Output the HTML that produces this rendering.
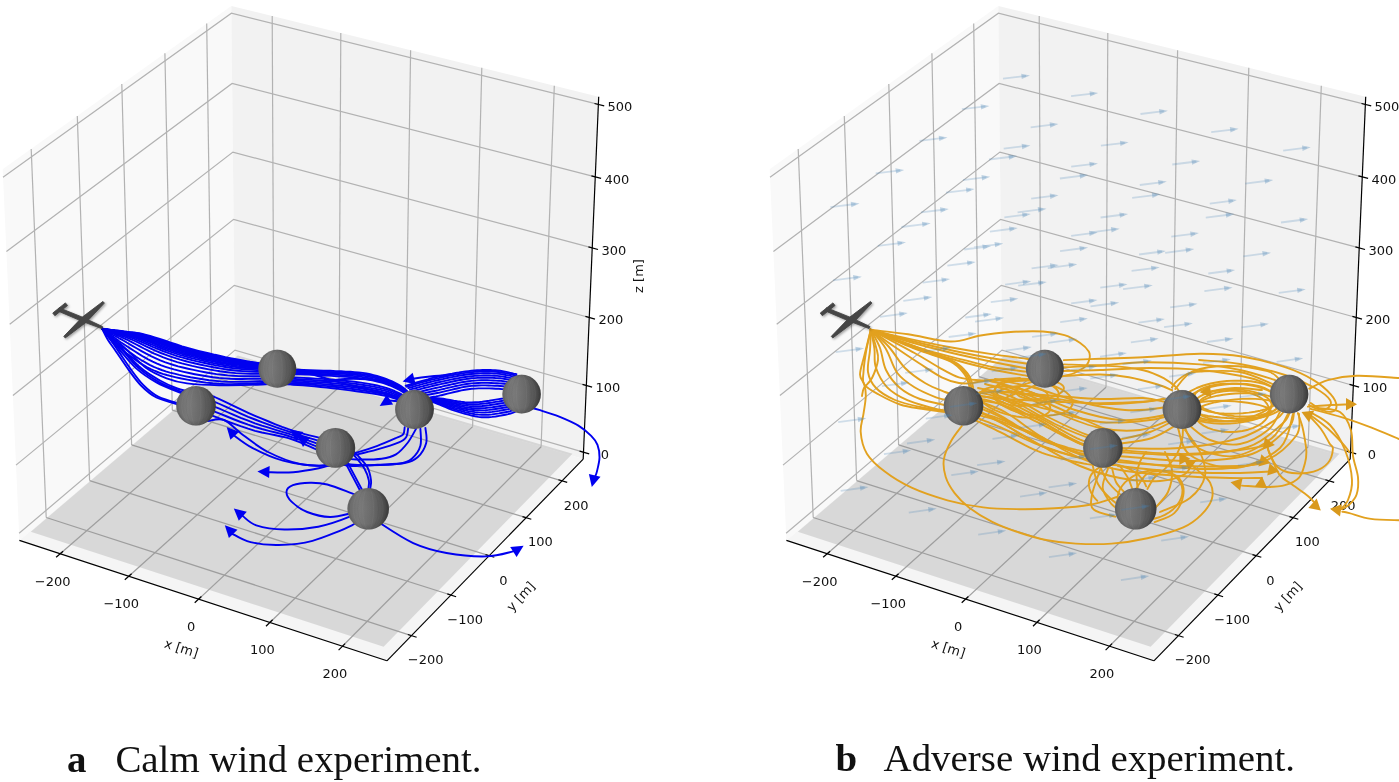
<!DOCTYPE html>
<html><head><meta charset="utf-8"><title>Figure</title>
<style>
html,body{margin:0;padding:0;background:#fff}
body{width:1399px;height:782px;overflow:hidden;position:relative}
svg{position:absolute;left:0;top:0;display:block;filter:blur(.35px)}
.tk text,.lb text{font-family:"DejaVu Sans","Liberation Sans",sans-serif;font-size:13px;fill:#111}
.cap{font-family:"Liberation Serif",serif;font-size:38.9px;fill:#111}
.cap .b{font-weight:bold}
</style></head><body>
<svg width="1399" height="782" viewBox="0 0 1399 782">
<defs>
<linearGradient id="sl" x1="0" y1="0" x2="1" y2="0"><stop offset="0" stop-color="#6c6c6c"/><stop offset="0.28" stop-color="#7b7b7b"/><stop offset="0.6" stop-color="#6b6b6b"/><stop offset="1" stop-color="#4a4a4a"/></linearGradient>
<radialGradient id="sg" cx="0.45" cy="0.48" r="0.55"><stop offset="0" stop-color="#000" stop-opacity="0"/><stop offset="0.7" stop-color="#000" stop-opacity="0.03"/><stop offset="1" stop-color="#000" stop-opacity="0.2"/></radialGradient>
<filter id="ps" x="-20%" y="-20%" width="150%" height="150%"><feDropShadow dx="1.3" dy="1.3" stdDeviation="1" flood-color="#000" flood-opacity=".35"/></filter>
</defs>
<rect width="1399" height="782" fill="#fff"/>
<polygon points="19.4,540.4 235.1,356.8 231.3,5.9 2.7,169.3" fill="#f9f9f9"/>
<polygon points="235.1,356.8 583.2,459.1 598.7,96.8 231.3,5.9" fill="#f2f2f2"/>
<polygon points="19.4,540.4 386.9,660.8 583.2,459.1 235.1,356.8" fill="#f5f5f5"/>
<polygon points="30.8,531.7 383.6,646.7 572.5,453.8 237.7,355.4" fill="#808080" fill-opacity="0.245"/>
<g fill="none" stroke="#b2b2b2" stroke-width="1.2">
<polyline points="273.9,368.2 272.2,16"/>
<polyline points="46.2,517.5 31.2,148.9"/>
<polyline points="339,387.3 340.8,32.9"/>
<polyline points="89.6,480.6 77.3,116"/>
<polyline points="405.2,406.8 410.6,50.2"/>
<polyline points="131.6,444.9 121.8,84.1"/>
<polyline points="472.6,426.6 481.8,67.8"/>
<polyline points="172.3,410.2 164.9,53.3"/>
<polyline points="541.1,446.7 554.3,85.8"/>
<polyline points="211.8,376.6 206.7,23.4"/>
<polyline points="19.1,533.3 235,350.1 583.4,452.2"/>
<polyline points="16,465.1 234.3,285.4 586.3,385.5"/>
<polyline points="12.9,395.5 233.6,219.4 589.2,317.5"/>
<polyline points="9.7,324.3 232.9,152.1 592.2,247.9"/>
<polyline points="6.4,251.5 232.1,83.4 595.3,176.9"/>
<polyline points="3,177.2 231.4,13.2 598.4,104.4"/>
</g>
<g fill="none" stroke="#9e9e9e" stroke-width="1.25">
<polyline points="60.2,553.7 273.9,368.2"/>
<polyline points="411.4,635.6 46.2,517.5"/>
<polyline points="128.8,576.2 339,387.3"/>
<polyline points="450.9,595 89.6,480.6"/>
<polyline points="198.7,599.1 405.2,406.8"/>
<polyline points="489.1,555.7 131.6,444.9"/>
<polyline points="269.9,622.5 472.6,426.6"/>
<polyline points="526.2,517.7 172.3,410.2"/>
<polyline points="342.4,646.2 541.1,446.7"/>
<polyline points="562,480.8 211.8,376.6"/>
</g>
<g fill="none" stroke="#000" stroke-width="1.2">
<polyline points="19.4,540.4 386.9,660.8"/>
<polyline points="386.9,660.8 583.2,459.1"/>
<polyline points="583.2,459.1 598.7,96.8"/>
<polyline points="63.1,551.2 56.1,557.3"/>
<polyline points="407.8,634.5 416.6,637.3"/>
<polyline points="131.6,573.7 124.8,579.8"/>
<polyline points="447.3,593.9 456.1,596.7"/>
<polyline points="201.4,596.5 194.7,602.8"/>
<polyline points="485.5,554.6 494.3,557.3"/>
<polyline points="272.6,619.8 266,626.2"/>
<polyline points="522.5,516.6 531.3,519.3"/>
<polyline points="345.1,643.6 338.6,650.1"/>
<polyline points="558.4,479.7 567.2,482.4"/>
<polyline points="579.6,451.1 589.2,453.9"/>
<polyline points="582.5,384.4 592.1,387.2"/>
<polyline points="585.4,316.4 595,319.1"/>
<polyline points="588.4,246.9 598,249.5"/>
<polyline points="591.4,175.9 601.1,178.4"/>
<polyline points="594.5,103.5 604.2,105.9"/>
</g>
<g class="tk">
<text x="52.7" y="585.6" text-anchor="middle">−200</text>
<text x="425.6" y="664.4" text-anchor="middle">−200</text>
<text x="121.3" y="608.1" text-anchor="middle">−100</text>
<text x="465.1" y="623.8" text-anchor="middle">−100</text>
<text x="191.2" y="631" text-anchor="middle">0</text>
<text x="503.3" y="584.5" text-anchor="middle">0</text>
<text x="262.4" y="654.3" text-anchor="middle">100</text>
<text x="540.4" y="546.4" text-anchor="middle">100</text>
<text x="334.9" y="678.1" text-anchor="middle">200</text>
<text x="576.2" y="509.6" text-anchor="middle">200</text>
<text x="605" y="458.9" text-anchor="middle">0</text>
<text x="607.9" y="392.2" text-anchor="middle">100</text>
<text x="610.8" y="324.1" text-anchor="middle">200</text>
<text x="613.8" y="254.6" text-anchor="middle">300</text>
<text x="616.9" y="183.6" text-anchor="middle">400</text>
<text x="620" y="111.1" text-anchor="middle">500</text>
</g>
<polygon points="786.4,540.4 1002.1,356.8 998.3,5.9 769.7,169.3" fill="#f9f9f9"/>
<polygon points="1002.1,356.8 1350.2,459.1 1365.7,96.8 998.3,5.9" fill="#f2f2f2"/>
<polygon points="786.4,540.4 1153.9,660.8 1350.2,459.1 1002.1,356.8" fill="#f5f5f5"/>
<polygon points="797.8,531.7 1150.6,646.7 1339.5,453.8 1004.7,355.4" fill="#808080" fill-opacity="0.245"/>
<g fill="none" stroke="#b2b2b2" stroke-width="1.2">
<polyline points="1040.9,368.2 1039.2,16"/>
<polyline points="813.2,517.5 798.2,148.9"/>
<polyline points="1106,387.3 1107.8,32.9"/>
<polyline points="856.6,480.6 844.3,116"/>
<polyline points="1172.2,406.8 1177.6,50.2"/>
<polyline points="898.6,444.9 888.8,84.1"/>
<polyline points="1239.6,426.6 1248.8,67.8"/>
<polyline points="939.3,410.2 931.9,53.3"/>
<polyline points="1308.1,446.7 1321.3,85.8"/>
<polyline points="978.8,376.6 973.7,23.4"/>
<polyline points="786.1,533.3 1002,350.1 1350.4,452.2"/>
<polyline points="783,465.1 1001.3,285.4 1353.3,385.5"/>
<polyline points="779.9,395.5 1000.6,219.4 1356.2,317.5"/>
<polyline points="776.7,324.3 999.9,152.1 1359.2,247.9"/>
<polyline points="773.4,251.5 999.1,83.4 1362.3,176.9"/>
<polyline points="770,177.2 998.4,13.2 1365.4,104.4"/>
</g>
<g fill="none" stroke="#9e9e9e" stroke-width="1.25">
<polyline points="827.2,553.7 1040.9,368.2"/>
<polyline points="1178.4,635.6 813.2,517.5"/>
<polyline points="895.8,576.2 1106,387.3"/>
<polyline points="1217.9,595 856.6,480.6"/>
<polyline points="965.7,599.1 1172.2,406.8"/>
<polyline points="1256.1,555.7 898.6,444.9"/>
<polyline points="1036.9,622.5 1239.6,426.6"/>
<polyline points="1293.2,517.7 939.3,410.2"/>
<polyline points="1109.4,646.2 1308.1,446.7"/>
<polyline points="1329,480.8 978.8,376.6"/>
</g>
<g fill="none" stroke="#000" stroke-width="1.2">
<polyline points="786.4,540.4 1153.9,660.8"/>
<polyline points="1153.9,660.8 1350.2,459.1"/>
<polyline points="1350.2,459.1 1365.7,96.8"/>
<polyline points="830.1,551.2 823.1,557.3"/>
<polyline points="1174.8,634.5 1183.6,637.3"/>
<polyline points="898.6,573.7 891.8,579.8"/>
<polyline points="1214.3,593.9 1223.1,596.7"/>
<polyline points="968.4,596.5 961.7,602.8"/>
<polyline points="1252.5,554.6 1261.3,557.3"/>
<polyline points="1039.6,619.8 1033,626.2"/>
<polyline points="1289.5,516.6 1298.3,519.3"/>
<polyline points="1112.1,643.6 1105.6,650.1"/>
<polyline points="1325.4,479.7 1334.2,482.4"/>
<polyline points="1346.6,451.1 1356.2,453.9"/>
<polyline points="1349.5,384.4 1359.1,387.2"/>
<polyline points="1352.4,316.4 1362,319.1"/>
<polyline points="1355.4,246.9 1365,249.5"/>
<polyline points="1358.4,175.9 1368.1,178.4"/>
<polyline points="1361.5,103.5 1371.2,105.9"/>
</g>
<g class="tk">
<text x="819.7" y="585.6" text-anchor="middle">−200</text>
<text x="1192.6" y="664.4" text-anchor="middle">−200</text>
<text x="888.3" y="608.1" text-anchor="middle">−100</text>
<text x="1232.1" y="623.8" text-anchor="middle">−100</text>
<text x="958.2" y="631" text-anchor="middle">0</text>
<text x="1270.3" y="584.5" text-anchor="middle">0</text>
<text x="1029.4" y="654.3" text-anchor="middle">100</text>
<text x="1307.4" y="546.4" text-anchor="middle">100</text>
<text x="1101.9" y="678.1" text-anchor="middle">200</text>
<text x="1343.2" y="509.6" text-anchor="middle">200</text>
<text x="1372" y="458.9" text-anchor="middle">0</text>
<text x="1374.9" y="392.2" text-anchor="middle">100</text>
<text x="1377.8" y="324.1" text-anchor="middle">200</text>
<text x="1380.8" y="254.6" text-anchor="middle">300</text>
<text x="1383.9" y="183.6" text-anchor="middle">400</text>
<text x="1387" y="111.1" text-anchor="middle">500</text>
</g>
<g fill="none" stroke="#0000f0" stroke-width="1.9" stroke-linejoin="round" stroke-linecap="round">
<path d="M102.2,328.8L103.9,329.0L106.2,329.3L108.9,329.6L111.9,329.9L115.1,330.3L118.4,330.6L121.6,331.0L124.5,331.4L127.2,331.8L129.6,332.1L132.0,332.3L134.3,332.5L136.7,332.9L139.4,333.3L142.5,333.9L146.0,334.8L150.1,335.9L154.7,337.3L159.8,338.9L165.2,340.7L170.8,342.6L176.5,344.5L182.1,346.3L187.6,347.9L193.0,349.4L198.4,350.8L203.9,352.2L209.5,353.5L215.0,354.8L220.3,355.9L225.4,357.1L230.3,358.1L234.7,359.0L238.9,359.8L242.9,360.5L246.6,361.1L250.1,361.7L253.5,362.2L256.6,362.7L259.6,363.1L262.5,363.6L265.2,364.0L267.8,364.4L270.2,364.8L272.5,365.1L274.5,365.4L276.3,365.6L277.8,365.8L279.0,366.0"/>
<path d="M102.2,328.8L103.9,329.0L106.1,329.3L108.8,329.6L111.8,330.0L114.9,330.4L118.1,330.8L121.2,331.3L124.1,331.7L126.7,332.0L129.1,332.3L131.4,332.6L133.7,332.9L136.1,333.2L138.8,333.7L141.9,334.4L145.4,335.3L149.5,336.5L154.1,337.9L159.2,339.6L164.5,341.4L170.1,343.3L175.7,345.2L181.3,347.0L186.8,348.7L192.0,350.1L197.4,351.6L202.9,352.9L208.5,354.2L214.0,355.5L219.3,356.7L224.5,357.8L229.4,358.8L233.9,359.7L238.1,360.5L242.2,361.2L246.0,361.8L249.6,362.4L253.0,362.9L256.3,363.3L259.4,363.7L262.3,364.2L265.1,364.6L267.7,364.9L270.2,365.3L272.5,365.6L274.5,365.9L276.3,366.1L277.8,366.3L279.0,366.4"/>
<path d="M102.2,328.8L103.9,329.0L106.1,329.3L108.7,329.7L111.6,330.1L114.7,330.6L117.8,331.0L120.9,331.5L123.7,331.9L126.3,332.3L128.6,332.6L130.9,332.9L133.1,333.2L135.5,333.6L138.2,334.1L141.2,334.9L144.8,335.8L148.9,337.1L153.5,338.6L158.5,340.3L163.9,342.2L169.4,344.1L175.0,346.0L180.5,347.8L185.9,349.4L191.1,350.9L196.5,352.3L202.0,353.6L207.5,354.9L213.0,356.2L218.3,357.4L223.5,358.5L228.5,359.5L233.0,360.4L237.4,361.2L241.5,361.9L245.3,362.5L249.1,363.0L252.6,363.5L256.0,363.9L259.1,364.4L262.2,364.8L265.0,365.1L267.7,365.5L270.2,365.8L272.4,366.1L274.5,366.3L276.3,366.6L277.8,366.7L279.0,366.9"/>
<path d="M102.2,328.8L103.8,329.1L106.0,329.4L108.6,329.8L111.4,330.2L114.5,330.7L117.5,331.2L120.5,331.7L123.3,332.1L125.8,332.6L128.1,332.9L130.3,333.2L132.5,333.6L134.9,334.0L137.6,334.6L140.6,335.3L144.1,336.4L148.2,337.7L152.9,339.2L157.9,341.0L163.2,342.9L168.7,344.8L174.2,346.7L179.7,348.5L185.0,350.2L190.2,351.6L195.5,353.0L201.0,354.4L206.5,355.7L211.9,356.9L217.3,358.1L222.6,359.2L227.5,360.2L232.2,361.1L236.6,361.9L240.7,362.6L244.7,363.2L248.5,363.7L252.1,364.2L255.6,364.6L258.9,365.0L262.0,365.3L264.9,365.7L267.6,366.0L270.1,366.3L272.4,366.6L274.5,366.8L276.3,367.0L277.8,367.2L279.0,367.4"/>
<path d="M102.2,328.8L103.8,329.1L105.9,329.4L108.4,329.9L111.3,330.3L114.2,330.8L117.2,331.4L120.2,331.9L122.9,332.4L125.4,332.8L127.6,333.2L129.7,333.5L131.9,333.9L134.3,334.4L136.9,335.0L140.0,335.8L143.5,336.9L147.6,338.2L152.2,339.9L157.3,341.7L162.5,343.6L168.0,345.6L173.4,347.5L178.9,349.2L184.2,350.9L189.3,352.3L194.6,353.7L200.0,355.1L205.5,356.4L210.9,357.6L216.3,358.8L221.6,359.9L226.6,360.9L231.3,361.8L235.8,362.6L240.0,363.3L244.1,363.9L248.0,364.4L251.7,364.8L255.3,365.2L258.7,365.6L261.8,365.9L264.8,366.3L267.6,366.6L270.1,366.9L272.4,367.1L274.5,367.3L276.3,367.5L277.8,367.7L279.0,367.8"/>
<path d="M102.2,328.8L103.8,329.1L105.8,329.5L108.3,329.9L111.1,330.4L114.0,331.0L117.0,331.5L119.8,332.1L122.5,332.6L124.9,333.1L127.1,333.4L129.2,333.8L131.4,334.2L133.7,334.7L136.3,335.4L139.4,336.3L142.9,337.4L147.0,338.8L151.6,340.5L156.6,342.4L161.9,344.3L167.3,346.3L172.7,348.2L178.1,350.0L183.3,351.6L188.4,353.1L193.6,354.5L199.0,355.8L204.5,357.1L209.9,358.3L215.4,359.5L220.6,360.6L225.7,361.6L230.5,362.5L235.0,363.3L239.3,364.0L243.4,364.6L247.4,365.1L251.3,365.5L254.9,365.8L258.4,366.2L261.7,366.5L264.7,366.8L267.5,367.1L270.1,367.4L272.4,367.6L274.5,367.8L276.3,368.0L277.8,368.1L279.0,368.2"/>
<path d="M102.2,328.8L103.7,329.1L105.8,329.5L108.2,330.0L110.9,330.6L113.7,331.2L116.6,331.8L119.4,332.4L122.0,332.9L124.3,333.4L126.4,333.8L128.5,334.2L130.6,334.7L132.9,335.2L135.5,336.0L138.5,336.9L142.1,338.1L146.2,339.6L150.8,341.4L155.8,343.3L161.0,345.3L166.3,347.3L171.7,349.2L177.0,351.0L182.2,352.6L187.2,354.0L192.4,355.4L197.7,356.7L203.1,358.0L208.6,359.3L214.0,360.4L219.4,361.6L224.5,362.6L229.3,363.5L234.0,364.3L238.3,364.9L242.6,365.5L246.7,366.0L250.7,366.4L254.5,366.7L258.1,367.0L261.5,367.3L264.6,367.6L267.4,367.9L270.0,368.1L272.4,368.3L274.5,368.5L276.3,368.6L277.8,368.7L279.0,368.9"/>
<path d="M102.2,328.8L103.7,329.1L105.7,329.6L108.0,330.1L110.6,330.7L113.4,331.4L116.2,332.0L118.9,332.6L121.4,333.2L123.7,333.7L125.7,334.2L127.7,334.6L129.8,335.1L132.1,335.7L134.7,336.5L137.7,337.5L141.3,338.8L145.4,340.4L150.0,342.2L154.9,344.2L160.1,346.3L165.4,348.3L170.7,350.2L175.9,352.0L181.0,353.6L186.0,355.0L191.1,356.4L196.4,357.7L201.8,359.0L207.2,360.2L212.7,361.4L218.1,362.5L223.3,363.5L228.2,364.4L232.9,365.2L237.4,365.9L241.7,366.4L246.0,366.9L250.1,367.2L254.0,367.5L257.8,367.8L261.3,368.1L264.5,368.4L267.4,368.6L270.0,368.8L272.4,369.0L274.4,369.1L276.3,369.3L277.8,369.4L279.0,369.4"/>
<path d="M102.2,328.8L103.6,329.2L105.5,329.7L107.8,330.3L110.3,330.9L113.0,331.6L115.7,332.3L118.3,333.0L120.8,333.6L122.9,334.2L124.9,334.7L126.8,335.1L128.8,335.7L131.0,336.4L133.6,337.2L136.7,338.3L140.2,339.7L144.3,341.4L148.9,343.3L153.9,345.4L159.0,347.5L164.2,349.5L169.4,351.4L174.5,353.2L179.6,354.8L184.5,356.2L189.5,357.6L194.7,358.9L200.1,360.2L205.6,361.4L211.1,362.6L216.5,363.7L221.8,364.7L226.8,365.6L231.6,366.4L236.2,367.0L240.7,367.6L245.1,368.0L249.4,368.3L253.5,368.6L257.4,368.8L261.0,369.1L264.3,369.3L267.3,369.5L270.0,369.7L272.3,369.8L274.4,370.0L276.2,370.1L277.8,370.1L279.0,370.2"/>
<path d="M102.2,328.8L103.6,329.2L105.4,329.8L107.6,330.4L110.0,331.1L112.5,331.9L115.1,332.7L117.6,333.4L119.9,334.1L122.0,334.7L123.9,335.2L125.7,335.8L127.6,336.4L129.8,337.1L132.4,338.0L135.4,339.3L139.0,340.8L143.1,342.6L147.7,344.6L152.6,346.8L157.7,348.9L162.8,351.0L167.9,352.9L172.9,354.7L177.8,356.3L182.7,357.7L187.6,359.0L192.8,360.3L198.1,361.6L203.6,362.8L209.1,364.0L214.6,365.1L219.9,366.1L225.1,367.0L230.0,367.8L234.8,368.4L239.4,368.9L244.0,369.3L248.5,369.6L252.8,369.9L256.9,370.1L260.7,370.3L264.1,370.5L267.2,370.6L269.9,370.8L272.3,370.9L274.4,370.9L276.2,371.0L277.8,371.1L279.0,371.1"/>
<path d="M102.2,328.8L103.5,329.3L105.2,329.9L107.3,330.6L109.5,331.4L111.9,332.3L114.4,333.2L116.7,334.0L118.9,334.7L120.7,335.4L122.5,336.0L124.2,336.6L126.1,337.3L128.2,338.1L130.7,339.1L133.8,340.5L137.4,342.2L141.5,344.2L146.0,346.3L150.9,348.6L155.9,350.9L160.9,353.0L165.9,354.9L170.8,356.7L175.5,358.2L180.2,359.7L185.1,361.0L190.2,362.3L195.4,363.5L200.9,364.7L206.4,365.9L212.0,367.0L217.5,368.0L222.8,368.9L227.9,369.7L232.9,370.3L237.7,370.8L242.5,371.1L247.3,371.4L251.9,371.6L256.3,371.7L260.3,371.8L263.9,372.0L267.0,372.1L269.8,372.2L272.3,372.2L274.4,372.3L276.2,372.3L277.8,372.3L279.0,372.3"/>
<path d="M102.2,328.8L103.4,329.3L105.0,330.0L106.9,330.9L108.9,331.8L111.2,332.8L113.4,333.7L115.6,334.7L117.5,335.5L119.2,336.2L120.8,336.9L122.4,337.6L124.1,338.4L126.2,339.3L128.7,340.5L131.7,342.1L135.3,344.0L139.4,346.1L143.9,348.5L148.7,350.9L153.7,353.3L158.6,355.4L163.4,357.4L168.1,359.1L172.7,360.7L177.2,362.1L181.9,363.4L186.9,364.6L192.1,365.9L197.5,367.1L203.1,368.3L208.8,369.4L214.4,370.4L220.0,371.3L225.3,372.0L230.5,372.6L235.6,373.1L240.7,373.4L245.8,373.6L250.8,373.7L255.5,373.7L259.7,373.8L263.5,373.9L266.8,373.9L269.7,374.0L272.2,373.9L274.4,373.9L276.2,373.9L277.7,373.8L279.0,373.8"/>
<path d="M102.2,328.8L103.3,329.4L104.7,330.2L106.4,331.2L108.3,332.2L110.2,333.4L112.2,334.5L114.2,335.5L115.9,336.4L117.4,337.2L118.7,338.0L120.2,338.8L121.8,339.7L123.7,340.8L126.2,342.2L129.2,344.0L132.8,346.1L137.0,348.5L141.5,351.1L146.2,353.7L151.0,356.2L155.8,358.4L160.3,360.4L164.8,362.1L169.2,363.6L173.6,365.0L178.1,366.3L182.9,367.5L188.1,368.7L193.5,369.9L199.2,371.1L205.0,372.2L210.8,373.2L216.5,374.1L222.2,374.8L227.6,375.4L233.0,375.8L238.6,376.1L244.1,376.2L249.4,376.2L254.5,376.2L259.1,376.2L263.1,376.2L266.6,376.1L269.6,376.1L272.2,376.0L274.4,375.9L276.2,375.8L277.7,375.7L279.0,375.6"/>
<path d="M102.2,328.8L103.1,329.5L104.4,330.4L105.9,331.5L107.5,332.7L109.2,334.0L111.0,335.2L112.7,336.4L114.1,337.4L115.4,338.3L116.5,339.2L117.8,340.1L119.2,341.2L121.1,342.5L123.5,344.0L126.5,346.0L130.2,348.4L134.3,351.0L138.8,353.9L143.4,356.7L148.1,359.3L152.7,361.6L157.1,363.6L161.3,365.3L165.5,366.8L169.7,368.2L174.0,369.4L178.7,370.6L183.7,371.8L189.1,373.0L194.9,374.2L200.8,375.3L206.8,376.3L212.8,377.2L218.8,377.9L224.5,378.4L230.3,378.8L236.2,379.0L242.2,379.0L248.0,378.9L253.5,378.8L258.4,378.7L262.7,378.6L266.4,378.5L269.5,378.4L272.1,378.2L274.3,378.0L276.2,377.8L277.7,377.7L279.0,377.6"/>
<path d="M102.2,328.8L103.0,329.6L104.1,330.6L105.3,331.8L106.8,333.2L108.2,334.6L109.7,336.0L111.2,337.3L112.4,338.4L113.4,339.5L114.3,340.4L115.4,341.5L116.7,342.7L118.4,344.1L120.8,345.8L123.8,348.0L127.5,350.7L131.6,353.6L136.1,356.7L140.7,359.7L145.3,362.4L149.6,364.8L153.8,366.8L157.8,368.5L161.7,370.0L165.7,371.4L169.9,372.6L174.4,373.7L179.3,374.9L184.8,376.1L190.6,377.3L196.6,378.3L202.9,379.3L209.1,380.2L215.4,380.9L221.4,381.5L227.5,381.8L233.9,381.9L240.3,381.8L246.5,381.7L252.4,381.5L257.7,381.3L262.3,381.1L266.1,380.9L269.3,380.7L272.0,380.4L274.3,380.1L276.2,379.9L277.7,379.7L279.0,379.5"/>
<path d="M102.2,328.8L102.9,329.6L103.8,330.8L104.9,332.1L106.2,333.6L107.5,335.1L108.8,336.6L110.0,338.0L111.0,339.2L111.8,340.3L112.6,341.4L113.5,342.5L114.7,343.8L116.4,345.3L118.7,347.2L121.7,349.6L125.4,352.4L129.6,355.6L134.0,358.8L138.5,362.0L143.0,364.9L147.3,367.3L151.3,369.3L155.1,371.0L158.8,372.5L162.7,373.8L166.8,375.0L171.1,376.1L176.0,377.3L181.4,378.5L187.2,379.6L193.4,380.7L199.8,381.7L206.3,382.6L212.7,383.3L219.0,383.8L225.4,384.1L232.0,384.1L238.8,384.0L245.4,383.8L251.6,383.5L257.2,383.2L262.0,383.0L265.9,382.8L269.2,382.5L272.0,382.1L274.3,381.8L276.1,381.5L277.7,381.2L279.0,381.0"/>
<path d="M102.2,328.8C103.2,330.7 105.8,336.4 108.0,340.0C110.2,343.6 112.0,345.7 115.5,350.7C119.0,355.7 124.6,364.3 128.8,370.1C133.1,375.9 136.4,380.9 141.0,385.5C145.6,390.1 149.9,394.2 156.4,397.5C162.9,400.8 176.1,403.8 180.0,405.0"/>
<path d="M102.2,328.8C103.5,330.6 107.6,335.8 110.2,339.4C112.8,342.9 114.2,345.1 117.7,350.1C121.2,355.1 126.8,363.7 131.0,369.5C135.2,375.3 138.6,380.3 143.2,384.9C147.8,389.5 152.1,393.6 158.6,396.9C165.1,400.1 178.3,403.1 182.2,404.4"/>
<path d="M102.2,328.8C103.5,330.5 107.3,335.7 110.0,339.0C112.7,342.3 114.2,343.8 118.5,348.6C122.8,353.5 129.6,362.5 135.9,368.1C142.2,373.7 149.1,378.3 156.4,382.4C163.7,386.5 173.3,390.0 179.9,392.6C186.5,395.2 193.3,397.1 196.0,398.0"/>
<path d="M102.2,328.8C103.9,330.4 109.1,335.2 112.2,338.4C115.3,341.6 116.4,343.1 120.7,348.0C125.0,352.9 131.8,361.9 138.1,367.5C144.4,373.1 151.3,377.7 158.6,381.8C165.9,385.9 175.5,389.4 182.1,392.0C188.7,394.6 195.5,396.5 198.2,397.4"/>
<path d="M102.2,328.8C103.8,330.2 108.4,334.5 112.0,337.5C115.6,340.5 117.9,341.5 123.6,346.6C129.3,351.7 139.0,362.8 146.2,368.1C153.4,373.4 159.8,375.8 166.6,378.3C173.4,380.9 178.4,382.2 187.1,383.4C195.8,384.5 206.5,385.0 219.0,385.2C231.5,385.4 252.0,384.9 262.0,384.5C272.0,384.1 276.2,383.2 279.0,383.0"/>
<path d="M102.2,328.8C103.7,330.4 107.9,335.4 111.0,338.5C114.1,341.6 116.0,342.7 121.0,347.6C126.0,352.5 134.5,362.6 141.0,368.1C147.5,373.6 154.2,377.2 160.0,380.5C165.8,383.8 171.0,386.1 176.0,388.0C181.0,389.9 187.7,391.3 190.0,392.0"/>
<path d="M205.0,396.0L205.6,395.9L206.3,395.5L207.2,395.2L208.7,395.2L211.1,395.7L214.7,397.0L219.9,399.3L226.3,402.3L233.5,405.8L240.9,409.4L248.2,412.8L255.0,415.8L261.8,418.7L268.7,421.5L275.5,424.3L282.1,426.9L288.4,429.2L294.1,431.1L299.5,432.7L304.7,434.1L309.5,435.3L313.9,436.4L318.0,437.4L321.8,438.4L325.2,439.3L328.4,440.2L331.1,440.9L333.3,441.5L335.0,442.0"/>
<path d="M205.0,400.5L205.6,400.4L206.2,400.1L207.0,399.9L208.4,400.0L210.8,400.5L214.5,401.8L219.7,404.0L226.1,406.9L233.3,410.2L240.8,413.6L248.2,416.8L255.0,419.5L261.8,422.1L268.7,424.6L275.6,427.1L282.2,429.3L288.4,431.4L294.1,433.3L299.5,435.1L304.7,436.7L309.5,438.1L313.9,439.4L318.0,440.6L321.8,441.7L325.2,442.6L328.4,443.5L331.1,444.2L333.3,444.8L335.0,445.2"/>
<path d="M205.0,405.0L205.6,405.0L206.1,404.8L206.8,404.6L208.2,404.8L210.5,405.4L214.2,406.6L219.4,408.7L225.9,411.5L233.2,414.6L240.7,417.8L248.1,420.7L255.0,423.3L261.8,425.6L268.7,427.7L275.6,429.8L282.2,431.8L288.4,433.7L294.1,435.6L299.5,437.4L304.7,439.2L309.5,440.9L313.9,442.4L318.0,443.8L321.8,444.9L325.2,445.9L328.4,446.8L331.1,447.5L333.3,448.1L335.0,448.5"/>
<path d="M205.0,409.5L205.5,409.5L205.9,409.4L206.6,409.4L207.9,409.6L210.2,410.2L213.9,411.4L219.1,413.4L225.7,416.0L233.0,419.0L240.7,422.0L248.1,424.7L255.0,427.0L261.9,429.0L268.8,430.8L275.6,432.5L282.2,434.2L288.4,436.0L294.1,437.8L299.5,439.7L304.7,441.7L309.5,443.6L313.9,445.4L318.0,446.9L321.8,448.2L325.2,449.2L328.4,450.1L331.1,450.8L333.3,451.3L335.0,451.8"/>
<path d="M205.0,414.0L205.5,414.1L205.8,414.0L206.5,414.1L207.7,414.3L209.9,415.0L213.6,416.2L218.8,418.1L225.4,420.6L232.9,423.4L240.6,426.2L248.1,428.7L255.0,430.8L261.9,432.5L268.8,433.9L275.6,435.3L282.2,436.7L288.4,438.2L294.1,440.0L299.5,442.1L304.7,444.3L309.5,446.4L313.9,448.4L318.0,450.1L321.8,451.4L325.2,452.5L328.4,453.3L331.1,454.0L333.3,454.6L335.0,455.0"/>
<path d="M280.0,369.0L281.3,369.1L282.9,369.1L284.8,369.2L287.2,369.3L290.2,369.5L293.7,369.6L298.1,369.8L303.6,370.0L310.0,370.2L316.8,370.4L323.7,370.6L330.2,370.8L336.0,371.1L341.1,371.3L345.9,371.6L350.4,371.8L354.6,372.1L358.7,372.4L362.7,372.9L366.5,373.5L370.2,374.2L373.6,375.1L377.0,376.0L380.1,376.9L383.2,378.0L386.1,379.0L388.9,380.1L391.6,381.2L394.1,382.4L396.5,383.6L398.8,384.9L400.9,386.1L402.9,387.5L404.8,389.0L406.7,390.7L408.3,392.3L409.8,393.8L411.1,395.1L412.0,396.0"/>
<path d="M280.0,370.0L281.3,370.1L282.8,370.2L284.7,370.3L287.0,370.4L289.8,370.5L293.3,370.6L297.6,370.8L303.0,371.0L309.2,371.2L315.9,371.4L322.6,371.7L329.1,371.9L334.9,372.2L340.1,372.5L345.0,372.7L349.5,373.0L353.9,373.3L358.1,373.7L362.2,374.2L366.2,374.8L370.0,375.5L373.6,376.4L377.0,377.3L380.2,378.2L383.2,379.2L386.1,380.2L388.8,381.2L391.4,382.3L393.9,383.4L396.2,384.6L398.4,385.8L400.6,387.0L402.6,388.3L404.5,389.8L406.4,391.4L408.1,393.0L409.6,394.4L410.9,395.7L411.9,396.6"/>
<path d="M280.0,371.1L281.2,371.2L282.7,371.2L284.5,371.3L286.8,371.4L289.5,371.5L292.9,371.7L297.0,371.8L302.3,372.0L308.3,372.2L314.9,372.5L321.6,372.7L328.0,373.0L333.8,373.3L339.1,373.6L344.0,373.9L348.7,374.2L353.2,374.5L357.5,375.0L361.8,375.5L365.9,376.1L369.8,376.8L373.5,377.7L377.0,378.5L380.3,379.5L383.3,380.4L386.1,381.4L388.8,382.4L391.3,383.4L393.7,384.5L395.9,385.6L398.1,386.8L400.3,388.0L402.3,389.2L404.3,390.6L406.2,392.2L407.9,393.7L409.5,395.1L410.7,396.3L411.7,397.1"/>
<path d="M280.0,372.3L281.2,372.4L282.6,372.4L284.4,372.5L286.5,372.6L289.2,372.7L292.4,372.8L296.4,373.0L301.5,373.2L307.4,373.4L313.8,373.7L320.3,374.0L326.7,374.3L332.6,374.6L337.9,374.9L343.0,375.2L347.7,375.6L352.3,375.9L356.8,376.4L361.2,376.9L365.5,377.6L369.6,378.3L373.5,379.2L377.1,380.0L380.4,380.9L383.4,381.8L386.1,382.7L388.7,383.7L391.1,384.7L393.4,385.7L395.6,386.7L397.8,387.8L399.9,389.0L401.9,390.2L404.0,391.6L405.9,393.0L407.7,394.5L409.2,395.8L410.6,396.9L411.6,397.8"/>
<path d="M280.0,373.5L281.2,373.6L282.5,373.6L284.2,373.7L286.2,373.8L288.8,373.9L291.9,374.0L295.8,374.2L300.7,374.4L306.4,374.6L312.7,374.9L319.1,375.2L325.5,375.5L331.4,375.9L336.8,376.2L341.9,376.6L346.7,376.9L351.5,377.3L356.1,377.8L360.7,378.4L365.2,379.1L369.4,379.8L373.4,380.6L377.1,381.5L380.4,382.4L383.4,383.2L386.2,384.1L388.7,385.0L391.0,385.9L393.2,386.9L395.3,387.9L397.4,388.9L399.5,390.0L401.6,391.2L403.6,392.5L405.6,393.9L407.4,395.3L409.0,396.5L410.4,397.6L411.4,398.4"/>
<path d="M280.0,376.8L281.1,376.8L282.3,376.9L283.7,376.9L285.5,377.0L287.8,377.1L290.6,377.2L294.1,377.4L298.5,377.6L303.7,377.9L309.6,378.2L315.8,378.6L322.0,378.9L328.0,379.4L333.6,379.8L339.0,380.2L344.1,380.7L349.2,381.2L354.3,381.8L359.3,382.4L364.2,383.1L368.9,383.9L373.3,384.7L377.2,385.5L380.6,386.3L383.6,387.1L386.2,387.8L388.5,388.6L390.6,389.4L392.5,390.2L394.5,391.0L396.4,391.9L398.5,392.8L400.6,393.9L402.8,395.0L404.8,396.2L406.7,397.4L408.4,398.6L409.9,399.5L411.0,400.2"/>
<path d="M280.0,378.3L281.0,378.3L282.1,378.4L283.5,378.4L285.2,378.5L287.3,378.5L290.0,378.7L293.3,378.8L297.5,379.1L302.5,379.4L308.2,379.7L314.3,380.1L320.4,380.5L326.4,381.0L332.2,381.4L337.7,381.9L342.9,382.4L348.1,382.9L353.4,383.6L358.7,384.2L363.8,385.0L368.7,385.8L373.2,386.6L377.3,387.4L380.7,388.1L383.7,388.8L386.2,389.5L388.4,390.2L390.4,390.9L392.2,391.7L394.1,392.4L396.0,393.2L398.1,394.1L400.2,395.1L402.4,396.2L404.5,397.3L406.4,398.4L408.2,399.5L409.7,400.3L410.8,401.0"/>
<path d="M280.0,379.8L281.0,379.8L282.0,379.9L283.3,379.9L284.9,379.9L286.9,380.0L289.4,380.1L292.5,380.3L296.5,380.5L301.3,380.8L306.8,381.2L312.8,381.6L318.9,382.1L324.9,382.5L330.7,383.0L336.3,383.6L341.6,384.1L347.0,384.7L352.5,385.4L358.0,386.1L363.4,386.8L368.4,387.6L373.1,388.4L377.3,389.2L380.8,389.9L383.8,390.6L386.2,391.2L388.3,391.9L390.2,392.5L391.9,393.2L393.7,393.8L395.6,394.6L397.6,395.4L399.8,396.3L402.0,397.3L404.1,398.4L406.1,399.4L407.9,400.4L409.4,401.2L410.6,401.8"/>
<path d="M280.0,381.3L280.9,381.3L281.9,381.3L283.1,381.4L284.5,381.4L286.4,381.5L288.8,381.6L291.8,381.8L295.5,382.0L300.1,382.3L305.4,382.7L311.2,383.1L317.3,383.6L323.3,384.1L329.3,384.7L335.0,385.2L340.4,385.8L346.0,386.4L351.7,387.1L357.4,387.9L362.9,388.7L368.2,389.5L373.1,390.3L377.3,391.0L380.9,391.7L383.8,392.4L386.2,392.9L388.2,393.5L390.0,394.1L391.6,394.7L393.3,395.3L395.1,395.9L397.2,396.7L399.3,397.6L401.6,398.5L403.7,399.5L405.8,400.4L407.6,401.3L409.2,402.0L410.4,402.6"/>
<path d="M280.0,382.6L280.9,382.7L281.8,382.7L282.9,382.7L284.2,382.7L286.0,382.8L288.2,382.9L291.1,383.1L294.6,383.3L299.0,383.7L304.2,384.1L309.9,384.5L315.9,385.0L321.9,385.6L328.0,386.1L333.8,386.7L339.3,387.3L345.0,388.0L350.9,388.8L356.8,389.5L362.5,390.4L368.0,391.2L373.0,392.0L377.4,392.7L381.0,393.3L383.9,393.9L386.3,394.5L388.2,395.0L389.8,395.5L391.4,396.0L392.9,396.6L394.7,397.2L396.8,397.9L399.0,398.7L401.2,399.5L403.4,400.4L405.5,401.3L407.4,402.1L409.0,402.8L410.2,403.3"/>
<path d="M280.0,384.0L280.8,384.0L281.7,384.0L282.7,384.0L284.0,384.1L285.6,384.1L287.7,384.2L290.4,384.4L293.7,384.7L298.0,385.0L302.9,385.4L308.5,385.9L314.4,386.4L320.6,387.0L326.7,387.6L332.6,388.2L338.2,388.9L344.1,389.6L350.1,390.4L356.2,391.2L362.1,392.0L367.8,392.8L372.9,393.6L377.4,394.3L381.1,395.0L384.0,395.5L386.3,396.0L388.1,396.4L389.6,396.9L391.1,397.3L392.6,397.8L394.3,398.4L396.4,399.0L398.6,399.8L400.9,400.6L403.1,401.4L405.2,402.2L407.2,402.9L408.8,403.6L410.0,404.0"/>
<path d="M280.0,370.0C285.0,370.7 299.2,371.7 310.0,374.0C320.8,376.3 333.3,381.0 345.0,384.0C356.7,387.0 369.2,389.0 380.0,392.0C390.8,395.0 405.0,400.3 410.0,402.0"/>
<path d="M280.0,384.0C285.0,384.0 299.2,384.8 310.0,384.0C320.8,383.2 333.3,379.5 345.0,379.0C356.7,378.5 370.0,379.2 380.0,381.0C390.0,382.8 400.8,388.5 405.0,390.0"/>
<path d="M405.7,385.7L407.7,385.1L410.2,384.4L413.2,383.5L416.6,382.5L420.3,381.4L424.1,380.3L427.9,379.3L431.7,378.2L435.3,377.3L438.7,376.5L442.1,375.8L445.4,375.0L448.8,374.3L452.2,373.7L455.6,373.0L458.9,372.5L462.2,371.9L465.4,371.5L468.5,371.1L471.5,370.7L474.4,370.5L477.2,370.3L479.9,370.1L482.6,370.0L485.3,370.0L487.8,370.0L490.3,370.0L492.8,370.1L495.2,370.3L497.6,370.5L500.1,370.8L502.6,371.2L505.0,371.6L507.4,372.1L509.7,372.7L511.8,373.1L513.6,373.6L515.2,373.9L516.4,374.2"/>
<path d="M406.8,386.8L408.7,386.2L411.2,385.5L414.1,384.7L417.3,383.7L420.8,382.7L424.5,381.7L428.2,380.7L431.9,379.7L435.4,378.8L438.7,378.1L442.0,377.3L445.4,376.6L448.7,375.9L452.1,375.2L455.5,374.6L458.9,374.0L462.2,373.4L465.4,372.9L468.5,372.5L471.5,372.2L474.4,371.9L477.3,371.7L480.1,371.6L482.9,371.5L485.6,371.4L488.2,371.5L490.8,371.5L493.3,371.6L495.7,371.8L498.1,372.0L500.6,372.3L503.0,372.7L505.4,373.1L507.8,373.6L510.0,374.1L512.0,374.6L513.8,375.0L515.3,375.4L516.5,375.6"/>
<path d="M408.3,388.1L410.1,387.6L412.4,387.0L415.1,386.2L418.2,385.3L421.5,384.4L425.0,383.4L428.5,382.5L432.0,381.6L435.5,380.7L438.7,380.0L441.9,379.3L445.2,378.5L448.6,377.8L452.0,377.1L455.4,376.5L458.8,375.8L462.1,375.3L465.3,374.8L468.5,374.3L471.5,374.0L474.5,373.7L477.4,373.5L480.3,373.4L483.2,373.3L486.0,373.3L488.7,373.3L491.3,373.4L493.9,373.5L496.3,373.6L498.7,373.8L501.2,374.1L503.6,374.5L505.9,375.0L508.2,375.4L510.3,375.9L512.3,376.4L514.0,376.8L515.5,377.2L516.7,377.4"/>
<path d="M410.0,389.7L411.7,389.2L413.8,388.7L416.4,388.0L419.2,387.2L422.3,386.4L425.6,385.5L428.9,384.7L432.3,383.8L435.5,383.0L438.7,382.3L441.8,381.6L445.1,380.9L448.5,380.1L451.8,379.4L455.2,378.7L458.6,378.1L462.0,377.5L465.3,377.0L468.5,376.5L471.5,376.2L474.6,375.9L477.6,375.7L480.6,375.6L483.5,375.5L486.4,375.5L489.2,375.5L491.9,375.6L494.6,375.7L497.1,375.9L499.5,376.1L501.9,376.4L504.2,376.7L506.5,377.2L508.7,377.6L510.8,378.1L512.7,378.6L514.3,379.0L515.7,379.3L516.9,379.5"/>
<path d="M411.7,391.3L413.3,390.9L415.3,390.4L417.6,389.8L420.3,389.1L423.2,388.3L426.2,387.6L429.3,386.8L432.5,386.0L435.6,385.3L438.7,384.6L441.8,383.9L445.0,383.2L448.3,382.5L451.7,381.7L455.1,381.0L458.5,380.3L461.9,379.7L465.2,379.1L468.4,378.7L471.6,378.3L474.7,378.1L477.8,377.9L480.9,377.8L483.9,377.7L486.9,377.7L489.8,377.8L492.6,377.8L495.3,378.0L497.8,378.1L500.2,378.3L502.6,378.6L504.9,379.0L507.1,379.4L509.3,379.8L511.2,380.3L513.0,380.7L514.6,381.1L516.0,381.4L517.1,381.7"/>
<path d="M413.7,393.1L415.2,392.8L417.0,392.4L419.1,391.9L421.5,391.3L424.1,390.7L426.9,390.0L429.8,389.3L432.8,388.6L435.7,388.0L438.6,387.4L441.7,386.7L444.8,385.9L448.1,385.2L451.5,384.4L454.9,383.7L458.4,382.9L461.8,382.3L465.1,381.7L468.4,381.2L471.6,380.9L474.8,380.6L478.0,380.4L481.2,380.3L484.3,380.3L487.4,380.3L490.5,380.4L493.3,380.5L496.1,380.6L498.7,380.7L501.1,380.9L503.4,381.2L505.7,381.6L507.8,382.0L509.9,382.4L511.7,382.8L513.4,383.3L515.0,383.6L516.2,383.9L517.3,384.2"/>
<path d="M415.7,395.0L417.0,394.7L418.7,394.4L420.6,393.9L422.7,393.5L425.1,393.0L427.6,392.4L430.3,391.8L433.0,391.2L435.8,390.7L438.6,390.1L441.5,389.4L444.7,388.7L447.9,387.9L451.3,387.1L454.7,386.3L458.2,385.6L461.7,384.9L465.1,384.3L468.4,383.8L471.6,383.4L474.9,383.2L478.2,383.0L481.5,382.9L484.8,382.9L488.0,382.9L491.1,383.0L494.1,383.1L496.9,383.2L499.5,383.4L501.9,383.5L504.3,383.8L506.5,384.2L508.5,384.5L510.5,385.0L512.3,385.4L513.9,385.8L515.3,386.1L516.5,386.4L517.5,386.7"/>
<path d="M417.7,396.9L418.9,396.6L420.3,396.4L422.0,396.0L424.0,395.7L426.1,395.3L428.3,394.8L430.8,394.3L433.3,393.8L435.9,393.3L438.6,392.8L441.4,392.1L444.5,391.4L447.8,390.6L451.1,389.8L454.6,389.0L458.1,388.2L461.6,387.4L465.0,386.8L468.4,386.3L471.6,385.9L475.0,385.7L478.4,385.5L481.8,385.4L485.2,385.4L488.5,385.5L491.8,385.6L494.8,385.7L497.7,385.8L500.4,386.0L502.8,386.2L505.1,386.4L507.2,386.7L509.2,387.1L511.1,387.5L512.8,387.9L514.3,388.3L515.6,388.7L516.8,388.9L517.7,389.2"/>
<path d="M420.0,399.0L421.0,398.8L422.3,398.6L423.7,398.4L425.4,398.2L427.2,397.9L429.2,397.6L431.3,397.2L433.6,396.8L436.0,396.4L438.6,395.9L441.3,395.2L444.3,394.5L447.6,393.7L450.9,392.9L454.4,392.0L457.9,391.2L461.4,390.4L464.9,389.7L468.3,389.2L471.7,388.8L475.1,388.6L478.6,388.4L482.2,388.4L485.7,388.4L489.2,388.4L492.5,388.5L495.7,388.7L498.7,388.8L501.4,389.0L503.8,389.1L506.0,389.4L508.1,389.7L510.0,390.1L511.8,390.5L513.4,390.8L514.8,391.2L516.0,391.5L517.1,391.8L518.0,392.0"/>
<path d="M420.0,399.0L420.9,398.9L422.0,398.8L423.3,398.6L424.8,398.4L426.4,398.2L428.2,398.0L430.2,397.9L432.4,397.9L434.7,397.9L437.3,398.1L440.1,398.4L443.2,398.8L446.5,399.4L450.1,400.0L453.7,400.7L457.4,401.3L461.1,401.8L464.8,402.2L468.3,402.5L471.7,402.5L475.2,402.3L478.7,402.1L482.3,401.7L485.8,401.2L489.2,400.7L492.6,400.1L495.7,399.6L498.7,399.1L501.4,398.7L503.8,398.4L506.0,398.0L508.1,397.7L510.0,397.4L511.8,397.1L513.4,396.8L514.8,396.6L516.0,396.3L517.1,396.2L518.0,396.0"/>
<path d="M420.6,399.1L421.5,399.1L422.5,399.0L423.8,398.9L425.2,398.7L426.8,398.6L428.6,398.5L430.5,398.5L432.7,398.5L435.0,398.7L437.6,399.0L440.4,399.4L443.5,400.0L446.9,400.7L450.3,401.4L453.9,402.1L457.6,402.8L461.2,403.4L464.8,403.8L468.3,404.2L471.7,404.3L475.1,404.3L478.6,404.1L482.2,403.8L485.7,403.5L489.1,403.0L492.5,402.5L495.7,401.9L498.8,401.5L501.5,401.0L504.0,400.6L506.4,400.3L508.5,399.9L510.4,399.6L512.1,399.2L513.7,398.9L515.1,398.5L516.3,398.3L517.4,398.0L518.3,397.8"/>
<path d="M421.1,399.3L422.0,399.3L423.0,399.2L424.2,399.1L425.6,399.0L427.2,399.0L428.9,399.0L430.8,399.0L433.0,399.2L435.3,399.5L437.9,399.9L440.7,400.5L443.9,401.2L447.2,401.9L450.6,402.8L454.2,403.5L457.7,404.2L461.3,404.9L464.8,405.5L468.3,405.9L471.7,406.2L475.1,406.3L478.6,406.2L482.1,406.0L485.6,405.7L489.0,405.3L492.4,404.8L495.7,404.3L498.8,403.8L501.7,403.3L504.3,402.9L506.7,402.5L508.8,402.1L510.7,401.7L512.5,401.3L514.1,400.9L515.4,400.5L516.6,400.2L517.7,399.9L518.6,399.6"/>
<path d="M421.7,399.4L422.5,399.4L423.5,399.4L424.7,399.4L426.0,399.4L427.5,399.4L429.2,399.5L431.1,399.6L433.2,399.9L435.6,400.3L438.2,400.8L441.1,401.5L444.2,402.3L447.5,403.2L450.9,404.1L454.4,405.0L457.9,405.7L461.4,406.4L464.8,407.1L468.3,407.6L471.7,408.0L475.1,408.2L478.5,408.3L482.0,408.2L485.5,408.0L488.9,407.6L492.4,407.2L495.7,406.7L498.9,406.2L501.8,405.7L504.5,405.2L507.0,404.8L509.1,404.3L511.1,403.9L512.8,403.4L514.4,402.9L515.8,402.5L517.0,402.1L518.0,401.7L518.8,401.5"/>
<path d="M422.2,399.6L423.0,399.6L424.0,399.6L425.1,399.6L426.4,399.7L427.9,399.8L429.6,399.9L431.4,400.2L433.5,400.5L435.9,401.1L438.5,401.8L441.4,402.6L444.5,403.5L447.8,404.5L451.2,405.5L454.6,406.4L458.0,407.2L461.4,408.0L464.9,408.7L468.3,409.3L471.7,409.8L475.1,410.2L478.5,410.3L481.9,410.4L485.4,410.2L488.8,409.9L492.3,409.5L495.7,409.0L499.0,408.5L502.0,408.0L504.8,407.5L507.3,407.0L509.5,406.6L511.4,406.1L513.2,405.5L514.7,405.0L516.1,404.4L517.3,404.0L518.3,403.6L519.1,403.3"/>
<path d="M422.8,399.7L423.6,399.8L424.5,399.8L425.6,399.9L426.8,400.0L428.2,400.2L429.9,400.4L431.7,400.7L433.8,401.2L436.2,401.9L438.8,402.7L441.7,403.6L444.8,404.7L448.1,405.8L451.5,406.8L454.8,407.8L458.2,408.7L461.5,409.5L464.9,410.3L468.3,411.1L471.6,411.6L475.0,412.1L478.4,412.4L481.8,412.6L485.2,412.5L488.7,412.3L492.2,411.9L495.7,411.4L499.0,410.9L502.2,410.3L505.0,409.8L507.6,409.3L509.8,408.8L511.8,408.2L513.5,407.6L515.1,407.0L516.4,406.4L517.6,405.9L518.6,405.4L519.4,405.1"/>
<path d="M423.4,399.9L424.1,400.0L425.0,400.1L426.0,400.2L427.2,400.4L428.6,400.6L430.2,400.9L432.1,401.4L434.1,401.9L436.5,402.7L439.2,403.7L442.1,404.8L445.2,405.9L448.4,407.1L451.8,408.3L455.1,409.4L458.3,410.3L461.6,411.2L464.9,412.1L468.3,412.9L471.6,413.6L475.0,414.2L478.4,414.6L481.8,414.9L485.1,414.9L488.6,414.8L492.2,414.4L495.7,413.9L499.1,413.4L502.3,412.8L505.3,412.2L507.9,411.7L510.2,411.2L512.2,410.5L513.9,409.9L515.4,409.2L516.8,408.5L517.9,407.9L518.9,407.4L519.7,407.0"/>
<path d="M424.0,400.0L424.7,400.2L425.5,400.3L426.5,400.5L427.7,400.7L429.0,401.0L430.6,401.4L432.4,402.0L434.4,402.7L436.8,403.6L439.5,404.7L442.4,405.9L445.6,407.2L448.8,408.5L452.1,409.8L455.3,410.9L458.5,411.9L461.7,412.9L465.0,413.8L468.3,414.7L471.6,415.6L475.0,416.3L478.3,416.9L481.7,417.2L485.0,417.3L488.5,417.2L492.1,416.9L495.7,416.5L499.2,415.9L502.5,415.3L505.5,414.7L508.2,414.1L510.5,413.5L512.5,412.9L514.3,412.1L515.8,411.4L517.1,410.6L518.3,410.0L519.2,409.4L520.0,409.0"/>
<path d="M450.0,375.0C446.7,375.2 436.2,375.9 430.0,376.5C423.8,377.1 417.2,378.0 413.0,378.7C408.8,379.4 406.3,380.4 405.0,380.8"/>
<path d="M402.0,402.0C400.8,401.8 397.3,401.2 395.0,401.0C392.7,400.8 390.1,400.2 388.3,400.5C386.5,400.8 384.7,402.6 384.0,403.0"/>
<path d="M404.7,427.2C404.4,428.4 404.6,432.6 403.2,434.4C401.8,436.2 400.3,436.1 396.0,438.0C391.7,439.9 383.8,443.4 377.4,445.8C371.0,448.2 363.6,450.6 357.4,452.3C351.2,454.0 342.9,455.4 340.0,456.0"/>
<path d="M408.2,427.9C407.9,429.4 407.7,434.8 406.1,437.2C404.6,439.6 403.7,440.3 398.9,442.3C394.1,444.3 384.3,447.4 377.4,449.4C370.5,451.4 363.6,453.0 357.4,454.4C351.2,455.8 342.9,457.4 340.0,458.0"/>
<path d="M416.1,428.7C414.7,431.1 410.9,438.7 407.5,443.0C404.1,447.3 400.3,451.8 396.0,454.4C391.7,457.0 388.4,457.8 381.7,458.7C375.0,459.6 362.9,459.6 356.0,459.5C349.1,459.4 342.7,458.2 340.0,458.0"/>
<path d="M420.4,428.7C420.4,431.6 421.8,440.8 420.4,445.8C419.0,450.8 415.4,455.7 411.8,458.7C408.2,461.7 405.8,462.7 398.9,463.8C392.0,464.9 378.4,465.1 370.3,465.2C362.2,465.3 355.2,465.0 350.2,464.5C345.1,464.0 341.7,462.4 340.0,462.0"/>
<path d="M425.4,427.9C425.5,430.4 427.5,438.1 426.2,443.0C424.9,447.9 421.2,454.0 417.6,457.3C414.0,460.6 411.4,461.8 404.7,463.0C398.0,464.2 386.2,464.3 377.4,464.8C368.6,465.3 358.2,466.1 352.0,466.0C345.8,465.9 342.0,464.3 340.0,464.0"/>
<path d="M345.0,462.0C345.4,462.8 346.0,464.0 347.4,466.6C348.8,469.2 351.1,473.6 353.1,477.4C355.1,481.2 358.0,486.6 359.5,489.5C361.0,492.4 361.6,494.1 362.0,495.0"/>
<path d="M347.4,462.0C347.8,462.8 348.4,464.0 349.8,466.6C351.1,469.2 353.5,473.6 355.5,477.4C357.5,481.2 360.4,486.6 361.9,489.5C363.4,492.4 364.0,494.1 364.4,495.0"/>
<path d="M352.0,450.0C352.9,450.9 354.8,452.3 357.4,455.2C360.0,458.1 365.1,463.1 367.4,467.3C369.7,471.5 370.5,476.7 371.0,480.2C371.5,483.7 370.5,485.6 370.3,488.1C370.1,490.6 370.1,493.9 370.0,495.0"/>
<path d="M350.0,452.0C350.9,452.8 353.1,454.2 355.5,457.0C357.9,459.8 362.3,464.9 364.5,468.8C366.7,472.7 368.1,477.0 368.8,480.2C369.5,483.4 368.6,485.5 368.5,488.0C368.4,490.5 368.1,493.8 368.0,495.0"/>
<path d="M360.0,496.0C358.9,495.6 358.6,495.7 353.1,493.8C347.7,491.9 334.5,486.3 327.3,484.5C320.1,482.7 315.8,482.7 310.1,482.8C304.4,482.9 296.8,483.7 292.9,485.2C289.0,486.7 286.7,488.9 286.5,491.7C286.3,494.4 288.1,498.3 291.5,501.7C294.9,505.1 300.8,509.4 307.2,512.0C313.6,514.5 322.5,516.8 330.0,517.0C337.5,517.2 348.3,513.7 352.0,513.0"/>
<path d="M330.0,462.0C328.1,462.6 326.6,466.0 318.8,465.8C311.0,465.6 294.1,463.7 283.0,460.7C271.9,457.7 260.8,452.4 252.3,447.9C243.8,443.4 235.2,436.1 231.8,433.8"/>
<path d="M330.0,465.0C328.1,465.6 324.9,467.1 318.8,468.3C312.7,469.5 301.7,471.6 293.2,472.2C284.7,472.8 272.8,472.3 267.6,472.2C262.4,472.1 262.9,471.9 262.0,471.8"/>
<path d="M355.0,512.0C354.0,512.8 355.2,514.4 349.1,516.9C343.0,519.4 329.0,524.6 318.2,526.7C307.4,528.8 294.7,529.7 284.4,529.5C274.1,529.3 263.3,527.6 256.3,525.3C249.3,523.0 245.2,517.7 242.2,515.5C239.1,513.3 238.7,512.6 238.0,512.0"/>
<path d="M358.0,518.0C357.0,519.2 359.5,521.5 351.9,525.3C344.3,529.1 324.7,537.5 312.5,540.8C300.3,544.1 289.1,544.8 278.8,545.0C268.5,545.2 258.3,544.1 250.6,542.2C242.9,540.3 236.0,535.8 232.4,533.8C228.8,531.8 229.6,530.6 229.0,530.0"/>
<path d="M375.0,518.0C375.8,518.9 373.6,518.9 380.0,523.1C386.4,527.3 402.1,538.1 413.2,543.1C424.3,548.1 434.3,550.8 446.5,553.0C458.7,555.2 475.3,556.7 486.4,556.4C497.5,556.1 507.7,552.6 513.0,551.4C518.3,550.2 517.2,549.4 518.0,549.0"/>
<path d="M530.0,407.5C531.7,407.9 535.1,408.7 540.0,410.2C544.9,411.7 552.8,414.0 559.2,416.6C565.6,419.2 573.1,422.4 578.4,425.6C583.7,428.8 588.0,432.6 591.2,435.8C594.4,439.0 596.1,441.2 597.5,444.8C598.9,448.4 599.6,453.0 599.5,457.5C599.4,462.0 597.7,468.2 596.9,471.6C596.1,475.0 594.9,476.9 594.5,478.0"/>
<path d="M330.0,466.0C325.0,465.7 310.3,466.3 300.0,464.0C289.7,461.7 277.5,456.8 268.0,452.0C258.5,447.2 250.3,440.3 243.0,435.0C235.7,429.7 229.8,422.3 224.0,420.0C218.2,417.7 210.7,420.8 208.0,421.0"/>
</g>
<g transform="translate(277.3,368.8)"><circle r="19.0" fill="url(#sl)"/><ellipse rx="17.5" ry="19.0" fill="none" stroke="#000" stroke-opacity=".06" stroke-width=".7"/><ellipse rx="13.7" ry="19.0" fill="none" stroke="#fff" stroke-opacity=".06" stroke-width=".7"/><ellipse rx="9.5" ry="19.0" fill="none" stroke="#000" stroke-opacity=".06" stroke-width=".7"/><ellipse rx="4.9" ry="19.0" fill="none" stroke="#fff" stroke-opacity=".06" stroke-width=".7"/><circle r="19.0" fill="url(#sg)"/></g>
<g transform="translate(196.0,405.7)"><circle r="19.8" fill="url(#sl)"/><ellipse rx="18.2" ry="19.8" fill="none" stroke="#000" stroke-opacity=".06" stroke-width=".7"/><ellipse rx="14.3" ry="19.8" fill="none" stroke="#fff" stroke-opacity=".06" stroke-width=".7"/><ellipse rx="9.9" ry="19.8" fill="none" stroke="#000" stroke-opacity=".06" stroke-width=".7"/><ellipse rx="5.1" ry="19.8" fill="none" stroke="#fff" stroke-opacity=".06" stroke-width=".7"/><circle r="19.8" fill="url(#sg)"/></g>
<g transform="translate(414.5,409.5)"><circle r="19.4" fill="url(#sl)"/><ellipse rx="17.8" ry="19.4" fill="none" stroke="#000" stroke-opacity=".06" stroke-width=".7"/><ellipse rx="14.0" ry="19.4" fill="none" stroke="#fff" stroke-opacity=".06" stroke-width=".7"/><ellipse rx="9.7" ry="19.4" fill="none" stroke="#000" stroke-opacity=".06" stroke-width=".7"/><ellipse rx="5.0" ry="19.4" fill="none" stroke="#fff" stroke-opacity=".06" stroke-width=".7"/><circle r="19.4" fill="url(#sg)"/></g>
<g transform="translate(521.6,394.1)"><circle r="19.3" fill="url(#sl)"/><ellipse rx="17.8" ry="19.3" fill="none" stroke="#000" stroke-opacity=".06" stroke-width=".7"/><ellipse rx="13.9" ry="19.3" fill="none" stroke="#fff" stroke-opacity=".06" stroke-width=".7"/><ellipse rx="9.7" ry="19.3" fill="none" stroke="#000" stroke-opacity=".06" stroke-width=".7"/><ellipse rx="5.0" ry="19.3" fill="none" stroke="#fff" stroke-opacity=".06" stroke-width=".7"/><circle r="19.3" fill="url(#sg)"/></g>
<g transform="translate(335.4,447.9)"><circle r="19.8" fill="url(#sl)"/><ellipse rx="18.2" ry="19.8" fill="none" stroke="#000" stroke-opacity=".06" stroke-width=".7"/><ellipse rx="14.3" ry="19.8" fill="none" stroke="#fff" stroke-opacity=".06" stroke-width=".7"/><ellipse rx="9.9" ry="19.8" fill="none" stroke="#000" stroke-opacity=".06" stroke-width=".7"/><ellipse rx="5.1" ry="19.8" fill="none" stroke="#fff" stroke-opacity=".06" stroke-width=".7"/><circle r="19.8" fill="url(#sg)"/></g>
<g transform="translate(368.2,508.8)"><circle r="20.8" fill="url(#sl)"/><ellipse rx="19.1" ry="20.8" fill="none" stroke="#000" stroke-opacity=".06" stroke-width=".7"/><ellipse rx="15.0" ry="20.8" fill="none" stroke="#fff" stroke-opacity=".06" stroke-width=".7"/><ellipse rx="10.4" ry="20.8" fill="none" stroke="#000" stroke-opacity=".06" stroke-width=".7"/><ellipse rx="5.4" ry="20.8" fill="none" stroke="#fff" stroke-opacity=".06" stroke-width=".7"/><circle r="20.8" fill="url(#sg)"/></g>
<g fill="#0000f0">
<polygon points="402.6,381.5 412.7,372.7 415.7,384.3"/>
<polygon points="379.7,405.9 386.7,394.5 393.1,404.6"/>
<polygon points="226.7,426.9 239.2,431.7 230.4,439.8"/>
<polygon points="257.4,471.4 269.7,466.0 269.1,478.0"/>
<polygon points="290.2,429.5 303.4,431.9 296.2,441.5"/>
<polygon points="297.0,435.0 310.2,437.4 303.0,447.0"/>
<polygon points="233.8,508.4 246.8,511.8 238.8,520.8"/>
<polygon points="224.8,525.3 237.5,529.7 228.9,538.1"/>
<polygon points="523.6,545.7 516.6,557.1 510.2,547.0"/>
<polygon points="591.8,487.0 588.9,473.9 600.5,476.8"/>
</g>
<g transform="translate(0,0)" fill="#444" stroke="#444" stroke-width=".9" stroke-linejoin="round" filter="url(#ps)"><polygon points="59.06,307.77 83.71,317.68 102.53,326.58 101.7,328.57 82.18,321.37 57.75,310.88"/><polygon points="102.94,301.46 104.36,303.08 86.63,321.93 65.25,337.97 63.83,336.36 82.33,317.12"/><polygon points="65.4,302.88 67.52,305.5 54.86,315.7 52.75,313.08"/></g>
<g fill="none" stroke="#e2a11f" stroke-width="1.9" stroke-linejoin="round" stroke-linecap="round">
<path d="M870.8,329.8C877.0,330.6 894.9,332.4 908.1,334.3C921.4,336.2 938.5,341.2 950.3,341.5C962.1,341.8 969.5,337.4 979.0,335.8C988.5,334.2 996.9,332.9 1007.6,332.2C1018.3,331.5 1033.5,331.0 1043.0,331.5C1052.5,332.0 1058.3,333.2 1064.5,335.1C1070.7,337.0 1076.2,340.3 1080.2,343.0C1084.2,345.7 1087.2,348.9 1088.8,351.5C1090.3,354.1 1090.0,356.3 1089.5,358.7C1089.0,361.1 1088.5,363.5 1086.0,365.9C1083.5,368.3 1078.1,371.3 1074.5,373.0C1070.9,374.7 1069.4,374.6 1064.5,375.9C1059.6,377.2 1051.6,378.6 1045.0,381.0C1038.4,383.4 1031.7,387.2 1025.0,390.0C1018.3,392.8 1008.3,396.7 1005.0,398.0"/>
<path d="M870.8,329.8C877.0,331.3 894.9,335.7 908.1,338.6C921.4,341.5 936.1,344.6 950.3,347.2C964.5,349.8 980.6,352.5 993.3,354.4C1005.9,356.3 1017.6,357.4 1026.2,358.7C1034.8,360.0 1041.9,361.4 1045.0,362.0"/>
<path d="M870.8,329.8C877.0,331.5 894.8,336.6 908.0,340.0C921.2,343.4 935.8,346.9 950.0,350.0C964.2,353.1 979.7,356.2 993.0,358.5C1006.3,360.8 1023.8,363.1 1030.0,364.0"/>
<path d="M870.8,329.8C877.0,331.8 894.8,337.7 908.0,341.5C921.2,345.3 935.8,349.1 950.0,352.5C964.2,355.9 979.7,359.2 993.0,362.0C1006.3,364.8 1023.8,367.8 1030.0,369.0"/>
<path d="M870.8,329.8C879.3,332.9 906.0,343.6 921.6,348.7C937.2,353.8 952.7,357.0 964.6,360.1C976.5,363.2 983.1,365.4 993.3,367.3C1003.5,369.2 1020.5,370.9 1026.0,371.6"/>
<path d="M870.8,329.8C876.5,332.0 892.6,338.5 905.0,343.0C917.4,347.5 930.8,352.7 945.0,357.0C959.2,361.3 976.2,365.8 990.0,369.0C1003.8,372.2 1021.7,374.8 1028.0,376.0"/>
<path d="M870.8,329.8C878.1,332.9 901.2,343.4 914.5,348.7C927.8,354.0 941.9,357.2 950.3,361.5C958.6,365.8 961.5,370.6 964.6,374.4C967.7,378.2 968.0,381.6 968.9,384.5C969.8,387.4 969.8,390.8 970.0,392.0"/>
<path d="M870.8,329.8C878.4,332.9 902.8,343.4 916.3,348.7C929.8,354.0 943.7,357.2 952.1,361.5C960.4,365.8 963.3,370.6 966.4,374.4C969.5,378.2 969.8,381.6 970.7,384.5C971.6,387.4 971.6,390.8 971.8,392.0"/>
<path d="M870.8,329.8C878.7,332.9 904.2,343.4 918.1,348.7C932.0,354.0 945.5,357.2 953.9,361.5C962.2,365.8 965.1,370.6 968.2,374.4C971.3,378.2 971.6,381.6 972.5,384.5C973.4,387.4 973.4,390.8 973.6,392.0"/>
<path d="M870.8,329.8C878.1,333.7 903.2,346.8 914.5,353.0C925.8,359.2 931.4,363.2 938.8,367.3C946.2,371.4 952.2,375.2 958.9,377.3C965.6,379.4 973.3,379.7 979.0,380.2C984.7,380.7 987.3,380.1 993.3,380.2C999.3,380.3 1008.9,381.0 1015.0,381.0C1021.1,381.0 1027.5,380.2 1030.0,380.0"/>
<path d="M870.8,329.8C874.5,332.5 885.0,340.3 893.0,345.8C901.0,351.3 910.7,357.8 918.8,363.0C926.9,368.2 935.0,374.0 941.7,377.3C948.4,380.6 953.9,382.1 958.9,383.0C963.9,383.9 966.6,383.5 971.8,383.0C977.0,382.5 982.0,380.8 990.0,380.0C998.0,379.2 1015.0,378.3 1020.0,378.0"/>
<path d="M870.8,329.8C873.8,332.7 883.3,340.6 889.0,347.0C894.7,353.4 899.0,362.0 905.0,368.0C911.0,374.0 918.3,379.0 925.0,383.0C931.7,387.0 939.5,389.8 945.0,392.0C950.5,394.2 955.8,395.3 958.0,396.0"/>
<path d="M870.8,329.8C873.3,332.9 881.4,341.5 885.8,348.7C890.2,355.9 892.5,366.6 897.3,373.0C902.1,379.4 908.0,383.2 914.5,387.3C921.0,391.4 930.5,395.2 936.0,397.4C941.5,399.5 943.4,399.3 947.4,400.2C951.4,401.1 957.9,402.5 960.0,403.0"/>
<path d="M870.8,329.8C872.3,332.8 877.5,341.3 880.0,348.0C882.5,354.7 882.7,363.3 886.0,370.0C889.3,376.7 894.3,383.2 900.0,388.0C905.7,392.8 912.5,396.2 920.0,399.0C927.5,401.8 940.8,404.0 945.0,405.0"/>
<path d="M870.8,329.8C871.4,332.9 873.6,342.4 874.4,348.7C875.2,354.9 873.7,360.9 875.8,367.3C877.9,373.7 882.0,381.8 887.2,387.3C892.5,392.8 900.1,396.9 907.3,400.2C914.5,403.5 924.2,405.7 930.2,407.4C936.2,409.1 938.1,409.5 943.1,410.3C948.1,411.1 957.2,411.7 960.0,412.0"/>
<path d="M870.8,329.8C870.7,333.2 870.5,343.0 870.0,350.0C869.5,357.0 867.0,365.7 868.0,372.0C869.0,378.3 871.5,383.3 876.0,388.0C880.5,392.7 887.7,396.8 895.0,400.0C902.3,403.2 911.7,405.2 920.0,407.0C928.3,408.8 940.8,410.3 945.0,411.0"/>
<path d="M870.8,329.8C870.0,333.5 867.2,345.0 866.0,352.0C864.8,359.0 863.8,366.6 863.5,372.0C863.2,377.4 861.8,380.8 864.3,384.5C866.8,388.2 872.7,391.2 878.7,394.5C884.7,397.8 893.0,402.1 900.1,404.5C907.2,406.9 914.5,407.6 921.6,408.8C928.8,410.0 936.6,411.0 943.0,411.7C949.4,412.4 957.2,412.8 960.0,413.0"/>
<path d="M870.8,329.8C871.7,332.7 874.8,342.0 876.0,347.0C877.2,352.0 878.7,354.8 878.0,360.0C877.3,365.2 874.3,373.3 872.0,378.0C869.7,382.7 865.7,385.0 864.0,388.0C862.3,391.0 862.3,394.7 862.0,396.0"/>
<path d="M870.8,329.8C869.7,334.1 866.1,348.4 864.3,355.8C862.5,363.2 860.0,369.6 860.0,374.4C860.0,379.2 863.3,380.9 864.3,384.5C865.3,388.1 865.9,391.1 865.8,395.9C865.7,400.7 864.5,407.1 863.6,413.1C862.8,419.1 860.2,425.2 860.7,432.0C861.2,438.8 862.9,447.1 866.9,453.7C870.9,460.3 877.3,465.9 884.8,471.6C892.2,477.3 901.2,482.9 911.6,487.7C922.0,492.5 935.5,497.0 947.4,500.3C959.3,503.6 971.3,505.9 983.3,507.4C995.2,508.9 1007.2,509.0 1019.1,509.2C1031.0,509.4 1043.1,509.0 1054.9,508.3C1066.7,507.6 1079.7,506.7 1090.0,504.8C1100.3,502.9 1112.5,498.3 1117.0,497.0"/>
<path d="M961.8,426.0C960.0,428.5 954.0,435.7 951.0,441.2C948.0,446.7 944.8,453.1 943.9,459.1C943.0,465.1 943.9,471.3 945.7,477.0C947.5,482.7 950.7,488.0 954.6,493.1C958.5,498.2 962.6,502.6 968.9,507.4C975.2,512.2 983.8,517.6 992.2,521.8C1000.6,526.0 1010.1,529.5 1019.1,532.5C1028.1,535.5 1036.5,538.1 1046.0,540.0C1055.5,541.9 1064.9,543.0 1075.8,543.6C1086.7,544.2 1099.7,544.5 1111.6,543.6C1123.5,542.7 1135.5,540.9 1147.4,538.2C1159.4,535.5 1174.3,531.3 1183.3,527.4C1192.3,523.5 1196.4,519.7 1201.2,514.9C1206.0,510.1 1210.4,504.2 1211.9,498.8C1213.4,493.4 1212.5,487.5 1210.1,482.7C1207.7,477.9 1201.1,473.4 1197.6,470.1C1194.1,466.8 1190.4,464.2 1189.0,463.0"/>
<path d="M975.0,392.0L976.5,392.3L978.3,392.6L980.4,392.9L982.7,393.3L985.3,393.8L988.2,394.4L991.1,395.1L994.3,396.0L997.5,397.1L1000.8,398.3L1004.4,399.9L1008.2,401.6L1012.2,403.6L1016.3,405.6L1020.6,407.8L1024.9,410.1L1029.3,412.4L1033.6,414.7L1037.9,416.9L1042.1,419.1L1046.4,421.5L1050.9,424.0L1055.4,426.5L1059.9,429.1L1064.4,431.6L1068.7,434.0L1072.8,436.2L1076.7,438.1L1080.2,439.7L1083.4,440.9L1086.4,441.7L1089.2,442.3L1091.8,442.7L1094.3,442.9L1096.5,442.9L1098.5,442.9L1100.2,442.9L1101.7,442.9L1103.0,443.0"/>
<path d="M975.0,394.8L976.5,395.1L978.3,395.4L980.4,395.8L982.7,396.3L985.3,396.8L988.2,397.4L991.1,398.2L994.3,399.1L997.5,400.1L1000.8,401.4L1004.4,402.9L1008.2,404.7L1012.2,406.6L1016.3,408.7L1020.6,410.8L1024.9,413.1L1029.3,415.3L1033.6,417.6L1037.9,419.7L1042.1,421.9L1046.4,424.4L1050.9,427.0L1055.4,429.6L1059.9,432.2L1064.3,434.7L1068.6,437.1L1072.8,439.3L1076.6,441.2L1080.2,442.8L1083.4,444.0L1086.5,445.0L1089.5,445.7L1092.2,446.2L1094.8,446.5L1097.2,446.7L1099.4,446.8L1101.3,447.0L1102.9,447.1L1104.3,447.4"/>
<path d="M975.0,397.6L976.5,397.9L978.3,398.3L980.4,398.7L982.7,399.2L985.3,399.7L988.2,400.4L991.1,401.2L994.3,402.1L997.5,403.2L1000.8,404.5L1004.4,406.0L1008.2,407.7L1012.2,409.6L1016.3,411.6L1020.6,413.8L1024.9,416.0L1029.3,418.2L1033.6,420.3L1037.9,422.4L1042.1,424.5L1046.4,426.8L1050.9,429.2L1055.4,431.6L1059.9,434.0L1064.3,436.3L1068.6,438.5L1072.7,440.5L1076.6,442.3L1080.2,443.8L1083.4,444.9L1086.6,445.8L1089.5,446.4L1092.3,446.8L1094.9,447.0L1097.3,447.1L1099.4,447.2L1101.4,447.2L1103.0,447.3L1104.4,447.5"/>
<path d="M975.0,400.4L976.5,400.5L978.3,400.6L980.4,400.7L982.7,400.9L985.3,401.2L988.2,401.6L991.1,402.0L994.3,402.6L997.5,403.4L1000.8,404.3L1004.4,405.5L1008.2,406.8L1012.2,408.4L1016.3,410.0L1020.6,411.8L1024.9,413.6L1029.3,415.4L1033.6,417.3L1037.9,419.1L1042.1,421.2L1046.4,423.9L1050.9,426.7L1055.4,429.6L1059.9,432.3L1064.3,435.0L1068.6,437.6L1072.7,439.9L1076.6,441.9L1080.2,443.7L1083.4,445.0L1086.6,446.1L1089.6,447.0L1092.4,447.6L1095.1,448.1L1097.5,448.5L1099.8,448.8L1101.8,449.1L1103.6,449.4L1105.1,449.8"/>
<path d="M975.0,403.2L976.5,404.0L978.3,404.8L980.4,405.8L982.7,406.8L985.3,408.0L988.2,409.3L991.1,410.7L994.3,412.3L997.5,414.0L1000.8,415.8L1004.4,417.9L1008.2,420.2L1012.2,422.6L1016.3,425.2L1020.6,427.8L1024.9,430.5L1029.3,433.1L1033.6,435.6L1037.9,438.0L1042.1,439.9L1046.4,441.6L1050.8,443.3L1055.3,445.0L1059.7,446.6L1064.1,448.1L1068.4,449.6L1072.5,450.9L1076.5,452.1L1080.1,453.1L1083.6,453.9L1086.9,454.5L1090.2,455.0L1093.3,455.2L1096.2,455.4L1098.9,455.4L1101.3,455.4L1103.5,455.4L1105.3,455.4L1106.8,455.4"/>
<path d="M975.0,406.0L976.5,406.7L978.3,407.4L980.4,408.3L982.7,409.2L985.3,410.3L988.2,411.5L991.1,412.7L994.3,414.2L997.5,415.7L1000.8,417.4L1004.4,419.3L1008.2,421.4L1012.2,423.7L1016.3,426.0L1020.6,428.5L1024.9,430.9L1029.3,433.4L1033.6,435.7L1037.9,437.9L1042.1,439.6L1046.4,441.0L1050.8,442.3L1055.3,443.8L1059.7,445.1L1064.1,446.5L1068.4,447.8L1072.6,448.9L1076.5,450.0L1080.1,450.8L1083.5,451.5L1086.8,451.9L1089.9,452.1L1092.9,452.2L1095.7,452.1L1098.2,451.9L1100.5,451.6L1102.4,451.4L1104.1,451.1L1105.4,450.9"/>
<path d="M975.0,408.8L976.5,409.6L978.3,410.6L980.4,411.6L982.7,412.8L985.3,414.0L988.2,415.4L991.1,417.0L994.3,418.6L997.5,420.4L1000.8,422.2L1004.4,424.3L1008.2,426.6L1012.2,429.0L1016.3,431.6L1020.6,434.2L1024.9,436.8L1029.3,439.3L1033.6,441.8L1037.9,444.0L1042.1,445.9L1046.4,447.5L1050.8,449.0L1055.2,450.5L1059.6,451.9L1064.0,453.2L1068.3,454.5L1072.4,455.6L1076.4,456.6L1080.1,457.5L1083.6,458.2L1087.1,458.8L1090.5,459.2L1093.7,459.5L1096.8,459.7L1099.7,459.9L1102.3,459.9L1104.6,460.0L1106.6,460.0L1108.2,460.1"/>
<path d="M975.0,411.6L976.5,411.9L978.3,412.4L980.4,412.9L982.7,413.5L985.3,414.2L988.2,415.1L991.1,416.0L994.3,417.0L997.5,418.1L1000.8,419.3L1004.4,420.7L1008.2,422.3L1012.2,424.1L1016.3,425.9L1020.6,427.9L1024.9,429.8L1029.3,431.7L1033.6,433.6L1037.9,435.3L1042.1,437.2L1046.4,439.5L1050.8,441.7L1055.3,443.9L1059.7,446.0L1064.1,448.0L1068.4,449.9L1072.5,451.6L1076.4,453.1L1080.1,454.5L1083.6,455.6L1087.0,456.5L1090.3,457.3L1093.6,457.9L1096.6,458.4L1099.5,458.8L1102.2,459.2L1104.5,459.6L1106.6,459.9L1108.3,460.3"/>
<path d="M975.0,414.4L976.5,414.7L978.3,415.0L980.4,415.5L982.7,416.1L985.3,416.8L988.2,417.5L991.1,418.4L994.3,419.3L997.5,420.3L1000.8,421.4L1004.4,422.7L1008.2,424.2L1012.2,425.9L1016.3,427.6L1020.6,429.4L1024.9,431.2L1029.3,433.0L1033.6,434.7L1037.9,436.3L1042.1,438.0L1046.4,440.1L1050.8,442.1L1055.3,444.0L1059.7,446.0L1064.1,447.8L1068.4,449.5L1072.5,451.0L1076.5,452.4L1080.1,453.6L1083.6,454.6L1087.0,455.4L1090.2,456.0L1093.4,456.4L1096.4,456.8L1099.2,457.0L1101.7,457.3L1104.0,457.4L1105.9,457.6L1107.5,457.9"/>
<path d="M975.0,417.2L976.5,417.7L978.3,418.4L980.4,419.2L982.7,420.1L985.3,421.1L988.2,422.2L991.1,423.4L994.3,424.6L997.5,426.0L1000.8,427.4L1004.4,429.0L1008.2,430.8L1012.2,432.8L1016.3,434.8L1020.6,436.9L1024.9,439.0L1029.3,441.0L1033.6,442.9L1037.9,444.7L1042.1,446.3L1046.4,447.9L1050.8,449.4L1055.2,450.9L1059.6,452.3L1064.0,453.6L1068.3,454.8L1072.4,456.0L1076.4,457.0L1080.1,457.9L1083.6,458.6L1087.1,459.2L1090.5,459.6L1093.8,459.9L1096.9,460.1L1099.8,460.3L1102.4,460.4L1104.8,460.4L1106.7,460.5L1108.3,460.6"/>
<path d="M975.0,420.0L976.5,420.7L978.3,421.6L980.4,422.5L982.7,423.7L985.3,424.9L988.2,426.3L991.1,427.7L994.3,429.2L997.5,430.8L1000.8,432.4L1004.4,434.2L1008.2,436.3L1012.2,438.4L1016.3,440.6L1020.6,442.9L1024.9,445.2L1029.3,447.3L1033.6,449.3L1037.9,451.2L1042.1,452.8L1046.4,454.3L1050.7,455.7L1055.1,456.9L1059.5,458.1L1063.9,459.2L1068.2,460.3L1072.3,461.2L1076.3,462.0L1080.1,462.8L1083.7,463.5L1087.3,464.1L1090.9,464.5L1094.3,464.9L1097.7,465.2L1100.8,465.4L1103.6,465.6L1106.1,465.7L1108.3,465.9L1110.0,466.0"/>
<path d="M978.0,388.0C983.3,389.3 998.0,391.0 1010.0,396.0C1022.0,401.0 1036.7,411.3 1050.0,418.0C1063.3,424.7 1080.0,432.3 1090.0,436.0C1100.0,439.7 1106.7,439.3 1110.0,440.0"/>
<path d="M985.0,384.0C990.8,385.7 1007.5,389.0 1020.0,394.0C1032.5,399.0 1046.7,408.3 1060.0,414.0C1073.3,419.7 1086.7,425.3 1100.0,428.0C1113.3,430.7 1128.3,431.3 1140.0,430.0C1151.7,428.7 1165.0,421.7 1170.0,420.0"/>
<path d="M990.0,381.0C996.7,382.8 1015.8,387.2 1030.0,392.0C1044.2,396.8 1060.0,405.3 1075.0,410.0C1090.0,414.7 1105.8,419.0 1120.0,420.0C1134.2,421.0 1150.0,417.7 1160.0,416.0C1170.0,414.3 1176.7,411.0 1180.0,410.0"/>
<path d="M995.0,379.0C1001.7,380.5 1020.8,384.2 1035.0,388.0C1049.2,391.8 1065.0,398.3 1080.0,402.0C1095.0,405.7 1111.7,409.0 1125.0,410.0C1138.3,411.0 1151.2,409.3 1160.0,408.0C1168.8,406.7 1175.0,403.0 1178.0,402.0"/>
<path d="M983.0,390.0C988.3,392.0 1003.0,396.3 1015.0,402.0C1027.0,407.7 1041.7,417.7 1055.0,424.0C1068.3,430.3 1085.5,437.0 1095.0,440.0C1104.5,443.0 1109.2,441.7 1112.0,442.0"/>
<path d="M1000.0,384.0C1006.7,386.7 1025.8,394.0 1040.0,400.0C1054.2,406.0 1073.0,414.7 1085.0,420.0C1097.0,425.3 1107.5,430.0 1112.0,432.0"/>
<path d="M1118.0,440.0C1123.3,438.7 1140.5,435.3 1150.0,432.0C1159.5,428.7 1170.8,422.0 1175.0,420.0"/>
<path d="M1118.0,444.0C1123.7,443.0 1142.0,441.3 1152.0,438.0C1162.0,434.7 1173.7,426.3 1178.0,424.0"/>
<path d="M1118.0,448.0C1128.3,448.0 1159.7,449.7 1180.0,448.0C1200.3,446.3 1224.2,442.7 1240.0,438.0C1255.8,433.3 1267.5,424.7 1275.0,420.0C1282.5,415.3 1283.3,411.7 1285.0,410.0"/>
<path d="M1118.0,452.0C1129.2,452.5 1163.3,455.8 1185.0,455.0C1206.7,454.2 1231.8,452.2 1248.0,447.0C1264.2,441.8 1275.0,429.8 1282.0,424.0C1289.0,418.2 1288.7,414.0 1290.0,412.0"/>
<path d="M1118.0,456.0C1130.0,456.8 1167.7,461.3 1190.0,461.0C1212.3,460.7 1235.7,459.5 1252.0,454.0C1268.3,448.5 1281.0,434.8 1288.0,428.0C1295.0,421.2 1293.0,415.5 1294.0,413.0"/>
<path d="M1118.0,460.0C1131.7,461.5 1176.0,468.7 1200.0,469.0C1224.0,469.3 1246.0,467.5 1262.0,462.0C1278.0,456.5 1289.8,444.0 1296.0,436.0C1302.2,428.0 1298.5,417.7 1299.0,414.0"/>
<path d="M1118.0,450.0C1128.3,450.7 1159.7,454.0 1180.0,454.0C1200.3,454.0 1225.7,451.4 1240.0,450.0C1254.3,448.6 1261.7,446.2 1266.0,445.5"/>
<path d="M1118.0,462.0C1128.3,462.7 1159.7,465.3 1180.0,466.0C1200.3,466.7 1226.3,466.4 1240.0,466.0C1253.7,465.6 1258.3,463.9 1262.0,463.5"/>
<path d="M1118.0,466.0C1128.3,467.0 1159.7,470.8 1180.0,472.0C1200.3,473.2 1225.0,473.1 1240.0,473.0C1255.0,472.9 1265.0,471.8 1270.0,471.5"/>
<path d="M975.0,400.0C980.0,402.0 994.2,406.0 1005.0,412.0C1015.8,418.0 1027.5,428.3 1040.0,436.0C1052.5,443.7 1066.7,452.3 1080.0,458.0C1093.3,463.7 1103.3,467.0 1120.0,470.0C1136.7,473.0 1161.7,474.7 1180.0,476.0C1198.3,477.3 1216.3,477.7 1230.0,478.0C1243.7,478.3 1256.7,478.0 1262.0,478.0"/>
<path d="M975.0,410.0C980.0,412.5 994.2,419.2 1005.0,425.0C1015.8,430.8 1027.5,438.2 1040.0,445.0C1052.5,451.8 1066.7,460.5 1080.0,466.0C1093.3,471.5 1106.7,475.5 1120.0,478.0C1133.3,480.5 1149.2,481.7 1160.0,481.0C1170.8,480.3 1179.7,477.2 1185.0,474.0C1190.3,470.8 1190.8,464.0 1192.0,462.0"/>
<path d="M978.0,396.0C983.3,396.7 998.0,397.7 1010.0,400.0C1022.0,402.3 1035.0,406.3 1050.0,410.0C1065.0,413.7 1083.3,420.3 1100.0,422.0C1116.7,423.7 1136.3,421.7 1150.0,420.0C1163.7,418.3 1176.7,413.3 1182.0,412.0"/>
<path d="M980.0,392.0C985.0,392.0 998.3,391.0 1010.0,392.0C1021.7,393.0 1035.0,396.0 1050.0,398.0C1065.0,400.0 1084.5,403.3 1100.0,404.0C1115.5,404.7 1132.2,402.8 1143.0,402.0C1153.8,401.2 1161.3,399.5 1165.0,399.0"/>
<path d="M1063.8,360.1C1069.9,359.9 1087.0,359.2 1100.3,358.7C1113.5,358.2 1126.7,358.1 1143.3,357.3C1159.9,356.5 1183.5,353.8 1200.0,353.7C1216.5,353.6 1227.8,354.2 1242.0,356.5C1256.2,358.8 1273.1,363.3 1285.0,367.2C1296.9,371.1 1306.0,375.6 1313.6,380.1C1321.2,384.6 1327.0,390.1 1330.8,394.4C1334.6,398.7 1336.3,403.0 1336.5,405.9C1336.7,408.8 1334.6,410.9 1332.2,411.6C1329.8,412.3 1325.8,411.6 1322.2,410.2C1318.6,408.8 1312.6,404.2 1310.7,403.0"/>
<path d="M1063.8,364.4C1069.9,364.5 1087.0,365.5 1100.3,365.2C1113.5,364.9 1126.7,362.4 1143.3,362.3C1159.9,362.2 1183.9,363.1 1200.0,364.4C1216.1,365.7 1227.5,367.4 1240.0,370.0C1252.5,372.6 1269.2,378.3 1275.0,380.0"/>
<path d="M1063.8,367.3C1071.1,367.1 1094.2,365.4 1107.4,365.9C1120.7,366.4 1133.7,368.0 1143.3,370.2C1152.9,372.4 1159.3,375.9 1164.8,378.8C1170.3,381.7 1173.7,385.0 1176.2,387.4C1178.7,389.8 1179.4,392.1 1180.0,393.0"/>
<path d="M1063.8,375.9C1069.9,375.7 1089.4,374.3 1100.3,374.5C1111.2,374.7 1119.4,375.6 1128.9,377.3C1138.5,379.0 1150.4,382.4 1157.6,384.5C1164.8,386.6 1169.6,389.2 1172.0,390.2"/>
<path d="M1275.0,385.0C1269.2,382.8 1252.5,374.2 1240.0,372.0C1227.5,369.8 1209.0,371.2 1200.0,371.6C1191.0,372.0 1190.2,372.8 1186.2,374.5C1182.2,376.2 1178.6,379.5 1176.2,381.6C1173.8,383.8 1172.7,386.4 1172.0,387.4"/>
<path d="M1175.3,389.0C1178.3,386.0 1184.2,375.0 1193.2,371.2C1202.2,367.4 1216.6,366.0 1229.0,366.0C1241.4,366.0 1258.9,368.9 1267.4,371.2C1275.9,373.5 1277.9,378.5 1280.0,380.0"/>
<path d="M1063.0,371.0C1069.2,370.8 1085.5,370.5 1100.0,370.0C1114.5,369.5 1133.3,368.0 1150.0,368.0C1166.7,368.0 1183.3,368.3 1200.0,370.0C1216.7,371.7 1237.5,375.0 1250.0,378.0C1262.5,381.0 1270.8,386.3 1275.0,388.0"/>
<path d="M1000.0,398.8C1009.5,399.3 1040.6,401.0 1057.3,401.7C1074.0,402.4 1086.0,403.1 1100.3,403.1C1114.6,403.1 1132.8,402.4 1143.3,401.7C1153.8,401.0 1160.0,399.3 1163.3,398.8"/>
<path d="M1000.0,392.0C1009.5,392.7 1040.3,394.8 1057.0,396.0C1073.7,397.2 1085.7,398.7 1100.0,399.0C1114.3,399.3 1132.2,397.5 1143.0,398.0C1153.8,398.5 1161.3,401.3 1165.0,402.0"/>
<path d="M1058.9,394.8L1058.3,396.8L1056.9,398.7L1054.7,400.5L1051.8,402.0L1048.3,403.3L1044.2,404.2L1039.6,404.9L1034.8,405.2L1029.7,405.2L1024.6,404.8L1019.5,404.1L1014.6,403.1L1010.1,401.8L1006.0,400.3L1002.4,398.5L999.5,396.6L997.2,394.5L995.8,392.4L995.1,390.3L995.3,388.2L996.3,386.2L998.1,384.4L1000.7,382.7L1003.9,381.3L1007.7,380.2L1012.0,379.4L1016.8,378.9L1021.7,378.8L1026.8,378.9L1032.0,379.5L1037.0,380.3L1041.7,381.5L1046.0,382.9L1049.9,384.6L1053.2,386.4L1055.8,388.5L1057.6,390.5L1058.6,392.7L1058.9,394.8"/>
<path d="M1072.6,403.6L1071.7,406.2L1069.8,408.6L1067.0,410.8L1063.2,412.6L1058.7,414.0L1053.6,415.0L1047.8,415.6L1041.7,415.7L1035.4,415.4L1029.0,414.6L1022.8,413.4L1016.7,411.8L1011.1,409.8L1006.1,407.5L1001.8,405.0L998.3,402.3L995.6,399.5L994.0,396.6L993.3,393.8L993.7,391.1L995.1,388.6L997.5,386.3L1000.8,384.3L1004.9,382.7L1009.8,381.4L1015.2,380.6L1021.2,380.3L1027.4,380.4L1033.8,381.0L1040.1,382.0L1046.3,383.4L1052.1,385.2L1057.4,387.3L1062.1,389.7L1066.1,392.3L1069.2,395.1L1071.3,397.9L1072.5,400.8L1072.6,403.6"/>
<path d="M1048.0,396.0L1047.7,397.6L1046.7,399.2L1045.0,400.6L1042.8,402.0L1040.0,403.2L1036.8,404.2L1033.1,405.0L1029.2,405.6L1025.1,405.9L1021.0,406.0L1016.8,405.8L1012.8,405.4L1009.0,404.7L1005.6,403.7L1002.5,402.6L1000.0,401.3L998.1,399.9L996.8,398.4L996.1,396.8L996.1,395.2L996.8,393.6L998.1,392.1L1000.0,390.7L1002.5,389.4L1005.6,388.3L1009.0,387.3L1012.8,386.6L1016.8,386.2L1021.0,386.0L1025.1,386.1L1029.2,386.4L1033.1,387.0L1036.8,387.8L1040.0,388.8L1042.8,390.0L1045.0,391.4L1046.7,392.8L1047.7,394.4L1048.0,396.0"/>
<path d="M1063.9,387.9L1063.7,389.4L1062.9,390.9L1061.5,392.3L1059.6,393.7L1057.1,395.0L1054.2,396.2L1051.0,397.2L1047.4,398.0L1043.7,398.6L1039.8,399.0L1036.0,399.2L1032.3,399.1L1028.7,398.8L1025.5,398.3L1022.6,397.5L1020.2,396.6L1018.3,395.4L1017.0,394.2L1016.2,392.8L1016.1,391.4L1016.6,389.9L1017.7,388.4L1019.4,387.0L1021.6,385.6L1024.3,384.4L1027.4,383.3L1030.8,382.4L1034.4,381.6L1038.3,381.1L1042.1,380.8L1045.9,380.8L1049.5,381.0L1052.9,381.4L1056.0,382.1L1058.6,382.9L1060.8,384.0L1062.4,385.2L1063.5,386.5L1063.9,387.9"/>
<path d="M1050.2,409.5L1049.3,411.6L1047.5,413.4L1044.8,415.0L1041.4,416.2L1037.3,417.1L1032.6,417.5L1027.5,417.6L1022.0,417.2L1016.4,416.5L1010.7,415.4L1005.1,413.9L999.8,412.2L994.9,410.1L990.5,407.9L986.7,405.5L983.7,403.0L981.5,400.5L980.1,398.0L979.7,395.6L980.1,393.4L981.5,391.5L983.7,389.7L986.8,388.4L990.6,387.3L995.0,386.7L999.9,386.4L1005.2,386.5L1010.8,387.1L1016.5,388.0L1022.1,389.3L1027.6,390.9L1032.7,392.8L1037.4,395.0L1041.5,397.3L1044.9,399.8L1047.5,402.3L1049.3,404.8L1050.2,407.2L1050.2,409.5"/>
<path d="M1269.3,410.6L1268.8,413.9L1267.5,417.2L1265.1,420.3L1261.9,423.2L1258.0,425.7L1253.3,427.9L1248.1,429.7L1242.4,431.0L1236.5,431.8L1230.4,432.0L1224.4,431.7L1218.6,430.9L1213.0,429.6L1208.0,427.8L1203.6,425.6L1199.9,423.0L1197.0,420.1L1195.0,417.0L1194.0,413.7L1193.9,410.4L1194.8,407.1L1196.7,403.9L1199.5,400.9L1203.1,398.1L1207.4,395.8L1212.3,393.8L1217.8,392.2L1223.6,391.2L1229.6,390.7L1235.7,390.7L1241.7,391.2L1247.4,392.3L1252.6,393.9L1257.4,395.9L1261.5,398.3L1264.8,401.1L1267.2,404.1L1268.7,407.3L1269.3,410.6"/>
<path d="M1281.0,406.8L1280.6,408.6L1279.0,410.4L1276.4,412.2L1272.8,413.9L1268.3,415.5L1263.0,417.0L1257.0,418.3L1250.6,419.4L1243.8,420.2L1236.8,420.8L1229.9,421.1L1223.2,421.1L1216.8,420.8L1211.1,420.2L1206.0,419.4L1201.7,418.3L1198.3,417.0L1196.0,415.5L1194.8,413.9L1194.6,412.2L1195.6,410.4L1197.7,408.6L1200.8,406.9L1204.9,405.2L1209.9,403.6L1215.5,402.2L1221.7,401.0L1228.4,400.1L1235.3,399.4L1242.2,398.9L1249.1,398.8L1255.6,398.9L1261.7,399.4L1267.2,400.1L1271.9,401.0L1275.7,402.2L1278.5,403.6L1280.3,405.2L1281.0,406.8"/>
<path d="M1271.2,411.6L1270.6,413.0L1268.9,414.2L1266.2,415.4L1262.5,416.4L1258.0,417.2L1252.7,417.8L1246.9,418.2L1240.5,418.4L1233.9,418.3L1227.2,418.0L1220.5,417.5L1214.0,416.8L1208.0,416.0L1202.5,414.9L1197.7,413.7L1193.7,412.4L1190.6,411.1L1188.5,409.7L1187.5,408.2L1187.6,406.9L1188.7,405.6L1190.9,404.4L1194.1,403.3L1198.2,402.4L1203.1,401.7L1208.7,401.2L1214.8,400.9L1221.3,400.8L1228.0,401.0L1234.8,401.4L1241.3,402.0L1247.6,402.8L1253.4,403.7L1258.6,404.9L1263.0,406.1L1266.6,407.5L1269.2,408.8L1270.7,410.3L1271.2,411.6"/>
<path d="M1271.7,405.2L1271.2,407.8L1269.7,410.3L1267.2,412.7L1263.9,414.9L1259.7,416.9L1254.8,418.5L1249.3,419.8L1243.4,420.8L1237.2,421.3L1230.9,421.4L1224.6,421.1L1218.5,420.5L1212.8,419.4L1207.6,417.9L1203.0,416.1L1199.2,414.1L1196.2,411.8L1194.2,409.4L1193.2,406.8L1193.2,404.2L1194.2,401.7L1196.2,399.2L1199.1,396.9L1202.9,394.8L1207.5,393.0L1212.7,391.5L1218.4,390.4L1224.5,389.7L1230.7,389.3L1237.1,389.4L1243.3,389.9L1249.2,390.8L1254.7,392.1L1259.6,393.7L1263.8,395.6L1267.2,397.8L1269.7,400.2L1271.2,402.7L1271.7,405.2"/>
<path d="M1276.7,401.6L1276.2,403.2L1274.8,404.9L1272.4,406.5L1269.1,408.0L1265.0,409.4L1260.2,410.7L1254.8,411.7L1248.9,412.6L1242.8,413.2L1236.5,413.6L1230.3,413.7L1224.2,413.5L1218.5,413.1L1213.3,412.4L1208.7,411.5L1204.8,410.4L1201.8,409.1L1199.8,407.7L1198.7,406.1L1198.6,404.5L1199.5,402.9L1201.5,401.2L1204.3,399.7L1208.0,398.2L1212.5,396.9L1217.6,395.7L1223.3,394.7L1229.3,394.0L1235.5,393.5L1241.8,393.3L1248.0,393.3L1253.9,393.6L1259.4,394.1L1264.3,394.9L1268.6,395.9L1272.0,397.1L1274.5,398.5L1276.1,400.0L1276.7,401.6"/>
<path d="M1281.5,398.5L1281.1,401.9L1279.4,405.4L1276.4,408.8L1272.2,412.0L1266.9,415.0L1260.7,417.6L1253.6,419.8L1246.0,421.6L1238.0,422.9L1229.8,423.6L1221.6,423.8L1213.6,423.4L1206.0,422.4L1199.1,421.0L1193.0,419.0L1187.8,416.7L1183.8,413.9L1180.9,410.8L1179.4,407.5L1179.1,404.1L1180.2,400.6L1182.6,397.2L1186.2,393.9L1191.0,390.8L1196.7,388.0L1203.4,385.5L1210.7,383.5L1218.6,382.0L1226.7,381.0L1235.0,380.6L1243.1,380.7L1250.9,381.3L1258.1,382.5L1264.7,384.2L1270.3,386.4L1274.9,389.0L1278.4,391.9L1280.6,395.1L1281.5,398.5"/>
<path d="M1274.7,398.0L1274.4,401.0L1273.0,404.0L1270.3,407.1L1266.6,410.0L1261.8,412.7L1256.3,415.1L1249.9,417.3L1243.1,419.0L1235.8,420.3L1228.4,421.2L1220.9,421.6L1213.7,421.5L1206.8,420.9L1200.5,419.9L1194.9,418.4L1190.2,416.4L1186.5,414.2L1183.8,411.6L1182.3,408.8L1182.0,405.9L1182.9,402.8L1185.0,399.8L1188.2,396.8L1192.5,394.0L1197.6,391.4L1203.6,389.1L1210.2,387.1L1217.3,385.6L1224.7,384.5L1232.1,383.8L1239.5,383.7L1246.6,384.0L1253.2,384.9L1259.2,386.2L1264.3,387.9L1268.6,390.0L1271.8,392.4L1273.9,395.1L1274.7,398.0"/>
<path d="M1280.4,402.9L1279.7,405.5L1277.9,407.9L1275.0,410.1L1271.1,412.1L1266.4,413.7L1260.9,415.0L1254.8,415.9L1248.2,416.4L1241.4,416.5L1234.4,416.1L1227.5,415.3L1220.9,414.1L1214.7,412.6L1209.1,410.7L1204.2,408.6L1200.2,406.2L1197.1,403.7L1195.1,401.1L1194.1,398.4L1194.3,395.8L1195.6,393.3L1197.9,391.0L1201.3,388.9L1205.6,387.1L1210.8,385.6L1216.6,384.5L1223.0,383.8L1229.7,383.6L1236.6,383.7L1243.5,384.3L1250.3,385.3L1256.7,386.6L1262.7,388.3L1267.9,390.4L1272.4,392.6L1276.0,395.1L1278.5,397.7L1280.0,400.3L1280.4,402.9"/>
<path d="M1185.0,428.0C1187.2,431.3 1189.7,443.3 1198.0,448.0C1206.3,452.7 1222.7,457.7 1235.0,456.0C1247.3,454.3 1263.2,445.0 1272.0,438.0C1280.8,431.0 1285.3,418.0 1288.0,414.0"/>
<path d="M1178.0,428.0C1180.0,432.5 1180.5,448.3 1190.0,455.0C1199.5,461.7 1220.0,469.2 1235.0,468.0C1250.0,466.8 1270.3,457.0 1280.0,448.0C1289.7,439.0 1290.8,419.7 1293.0,414.0"/>
<path d="M1190.0,426.0C1193.3,428.3 1201.7,437.0 1210.0,440.0C1218.3,443.0 1230.3,445.7 1240.0,444.0C1249.7,442.3 1261.3,435.3 1268.0,430.0C1274.7,424.7 1278.0,415.0 1280.0,412.0"/>
<path d="M1309.3,388.7C1312.4,387.3 1320.0,382.2 1327.9,380.1C1335.8,378.0 1344.8,376.2 1356.6,375.8C1368.4,375.4 1391.9,377.6 1399.0,378.0"/>
<path d="M1307.9,406.6C1311.2,406.4 1321.4,405.6 1328.0,405.2C1334.6,404.8 1344.1,404.6 1347.3,404.5"/>
<path d="M1310.7,408.8C1316.0,410.2 1332.3,414.3 1342.3,417.4C1352.3,420.5 1361.5,423.8 1370.9,427.4C1380.4,431.0 1394.3,437.1 1399.0,439.0"/>
<path d="M1349.4,452.0C1348.2,450.5 1345.9,447.1 1342.3,443.2C1338.7,439.3 1332.8,433.1 1328.0,428.8C1323.2,424.5 1316.9,419.9 1313.6,417.4C1310.3,414.9 1308.9,414.6 1308.0,414.0"/>
<path d="M1297.9,413.1C1298.6,415.2 1301.0,421.5 1302.2,426.0C1303.4,430.5 1304.3,436.0 1305.0,440.3C1305.7,444.6 1306.4,448.2 1306.4,452.0C1306.4,455.8 1306.2,458.8 1305.0,463.0C1303.8,467.2 1302.6,473.6 1299.3,477.3C1296.0,481.0 1290.2,483.6 1285.0,485.2C1279.8,486.8 1275.0,486.9 1267.8,487.0C1260.6,487.1 1246.3,485.8 1242.0,485.6"/>
<path d="M1307.9,414.5C1310.1,416.9 1317.2,424.0 1320.8,428.8C1324.4,433.6 1327.4,439.9 1329.4,443.2C1331.4,446.5 1333.2,445.4 1332.9,448.7C1332.7,452.0 1331.1,459.2 1327.9,463.0C1324.7,466.8 1319.6,469.9 1313.6,471.6C1307.6,473.3 1298.1,473.7 1292.1,473.0C1286.1,472.3 1281.6,470.6 1277.8,467.3C1274.0,464.0 1270.9,456.6 1269.2,453.0C1267.5,449.4 1268.0,447.0 1267.8,445.8"/>
<path d="M1267.8,448.7C1269.7,453.0 1275.2,468.4 1279.2,474.4C1283.2,480.4 1287.3,480.9 1292.1,484.5C1296.9,488.1 1304.3,493.0 1307.9,495.9C1311.5,498.8 1312.6,500.7 1313.6,501.7"/>
<path d="M1318.0,408.0C1321.7,408.7 1334.5,408.3 1340.0,412.0C1345.5,415.7 1348.7,422.7 1350.9,430.0C1353.1,437.3 1351.8,447.9 1353.0,455.8C1354.2,463.7 1357.4,470.9 1358.0,477.3C1358.6,483.8 1358.0,490.0 1356.6,494.5C1355.2,499.0 1351.8,502.1 1349.4,504.5C1347.0,506.9 1343.2,508.2 1342.0,509.0"/>
<path d="M1399.0,520.3C1394.3,520.1 1379.2,520.1 1370.9,518.9C1362.6,517.7 1354.2,514.3 1349.4,513.1C1344.6,511.9 1343.5,511.9 1342.3,511.7"/>
<path d="M1262.0,390.0C1257.5,389.7 1243.7,387.8 1235.0,388.0C1226.3,388.2 1213.9,390.9 1209.7,391.5"/>
<path d="M1108.0,468.4C1107.1,471.7 1102.1,482.0 1102.7,488.0C1103.3,494.0 1108.7,500.5 1111.6,504.2C1114.5,507.9 1118.6,509.0 1120.0,510.0"/>
<path d="M1100.0,470.0C1098.7,474.2 1093.0,488.6 1091.9,495.2C1090.9,501.8 1089.8,505.9 1093.7,509.5C1097.6,513.1 1111.6,515.5 1115.2,516.7"/>
<path d="M1137.6,488.0C1137.4,485.6 1136.2,478.2 1136.7,473.7C1137.2,469.2 1138.8,464.8 1140.3,461.2C1141.8,457.6 1145.0,453.5 1146.0,452.0"/>
<path d="M1147.4,489.0C1148.6,487.1 1151.6,480.7 1154.6,477.3C1157.6,473.9 1161.8,472.0 1165.4,468.4C1169.0,464.8 1173.2,460.5 1176.0,455.8C1178.8,451.1 1180.8,444.6 1182.0,440.0C1183.2,435.4 1182.8,430.0 1183.0,428.0"/>
<path d="M1154.6,522.1C1157.9,520.6 1169.5,517.6 1174.3,513.1C1179.1,508.6 1182.4,500.9 1183.3,495.2C1184.2,489.5 1182.7,483.0 1179.7,479.1C1176.7,475.2 1170.8,472.8 1165.4,471.9C1160.0,471.0 1152.2,471.0 1147.4,473.7C1142.6,476.4 1138.5,485.6 1136.7,488.0"/>
<path d="M1120.0,466.0C1121.3,468.0 1126.0,474.3 1128.0,478.0C1130.0,481.7 1131.3,486.3 1132.0,488.0"/>
<path d="M1112.0,468.0C1112.7,470.3 1114.0,478.0 1116.0,482.0C1118.0,486.0 1122.7,490.3 1124.0,492.0"/>
<path d="M1181.9,486.5L1182.5,490.3L1182.2,494.2L1181.1,498.2L1179.2,502.1L1176.6,505.8L1173.2,509.2L1169.3,512.3L1164.8,514.9L1160.0,517.0L1154.9,518.5L1149.7,519.4L1144.5,519.7L1139.4,519.3L1134.7,518.4L1130.3,516.8L1126.4,514.6L1123.1,511.9L1120.5,508.8L1118.7,505.4L1117.7,501.6L1117.6,497.7L1118.2,493.8L1119.7,489.8L1122.0,486.0L1125.0,482.4L1128.7,479.2L1132.9,476.4L1137.5,474.0L1142.5,472.2L1147.7,471.0L1152.9,470.4L1158.1,470.4L1163.0,471.1L1167.6,472.4L1171.8,474.2L1175.3,476.7L1178.3,479.6L1180.5,482.9L1181.9,486.5"/>
<path d="M1100.0,466.0C1101.3,468.7 1103.8,476.7 1108.0,482.0C1112.2,487.3 1119.7,494.2 1125.0,498.0C1130.3,501.8 1137.5,503.8 1140.0,505.0"/>
<path d="M1092.0,462.0C1093.0,465.7 1094.7,477.7 1098.0,484.0C1101.3,490.3 1108.0,496.3 1112.0,500.0C1116.0,503.7 1120.3,505.0 1122.0,506.0"/>
<path d="M1097.4,500.8L1095.5,498.9L1093.9,497.0L1092.5,494.9L1091.2,492.8L1090.3,490.7L1089.5,488.5L1089.1,486.4L1088.8,484.2L1088.9,482.1L1089.2,480.0L1089.7,478.0L1090.5,476.1L1091.5,474.3L1092.8,472.6L1094.3,471.1L1096.0,469.7L1097.9,468.4L1100.0,467.4L1102.2,466.5L1104.6,465.8L1107.1,465.3L1109.7,465.0L1112.3,464.9L1115.0,465.0L1117.8,465.3L1120.5,465.9L1123.2,466.6L1125.9,467.5L1128.5,468.5L1131.0,469.8L1133.4,471.2L1135.7,472.8L1137.8,474.5L1139.7,476.3L1141.4,478.2L1143.0,480.2L1144.3,482.3L1145.3,484.4L1146.2,486.5"/>
<path d="M1165.0,452.0C1166.2,455.0 1171.5,463.3 1172.0,470.0C1172.5,476.7 1170.8,485.7 1168.0,492.0C1165.2,498.3 1157.2,505.3 1155.0,508.0"/>
<path d="M1185.0,430.0C1187.5,433.7 1196.7,444.3 1200.0,452.0C1203.3,459.7 1206.7,468.3 1205.0,476.0C1203.3,483.7 1197.5,492.0 1190.0,498.0C1182.5,504.0 1165.0,509.7 1160.0,512.0"/>
<path d="M1199.0,360.0C1205.8,360.7 1225.7,361.5 1240.0,364.0C1254.3,366.5 1272.5,371.0 1285.0,375.0C1297.5,379.0 1307.5,383.8 1315.0,388.0C1322.5,392.2 1327.8,396.7 1330.0,400.0C1332.2,403.3 1330.0,406.5 1328.0,408.0C1326.0,409.5 1321.2,409.5 1318.0,409.0C1314.8,408.5 1310.5,405.7 1309.0,405.0"/>
<path d="M1310.0,412.0C1313.3,414.2 1324.2,418.7 1330.0,425.0C1335.8,431.3 1341.3,440.8 1345.0,450.0C1348.7,459.2 1351.5,471.7 1352.0,480.0C1352.5,488.3 1350.0,495.0 1348.0,500.0C1346.0,505.0 1341.3,508.3 1340.0,510.0"/>
</g>
<g transform="translate(1044.8,368.8)"><circle r="19.0" fill="url(#sl)"/><ellipse rx="17.5" ry="19.0" fill="none" stroke="#000" stroke-opacity=".06" stroke-width=".7"/><ellipse rx="13.7" ry="19.0" fill="none" stroke="#fff" stroke-opacity=".06" stroke-width=".7"/><ellipse rx="9.5" ry="19.0" fill="none" stroke="#000" stroke-opacity=".06" stroke-width=".7"/><ellipse rx="4.9" ry="19.0" fill="none" stroke="#fff" stroke-opacity=".06" stroke-width=".7"/><circle r="19.0" fill="url(#sg)"/></g>
<g transform="translate(963.5,405.7)"><circle r="19.8" fill="url(#sl)"/><ellipse rx="18.2" ry="19.8" fill="none" stroke="#000" stroke-opacity=".06" stroke-width=".7"/><ellipse rx="14.3" ry="19.8" fill="none" stroke="#fff" stroke-opacity=".06" stroke-width=".7"/><ellipse rx="9.9" ry="19.8" fill="none" stroke="#000" stroke-opacity=".06" stroke-width=".7"/><ellipse rx="5.1" ry="19.8" fill="none" stroke="#fff" stroke-opacity=".06" stroke-width=".7"/><circle r="19.8" fill="url(#sg)"/></g>
<g transform="translate(1182.0,409.5)"><circle r="19.4" fill="url(#sl)"/><ellipse rx="17.8" ry="19.4" fill="none" stroke="#000" stroke-opacity=".06" stroke-width=".7"/><ellipse rx="14.0" ry="19.4" fill="none" stroke="#fff" stroke-opacity=".06" stroke-width=".7"/><ellipse rx="9.7" ry="19.4" fill="none" stroke="#000" stroke-opacity=".06" stroke-width=".7"/><ellipse rx="5.0" ry="19.4" fill="none" stroke="#fff" stroke-opacity=".06" stroke-width=".7"/><circle r="19.4" fill="url(#sg)"/></g>
<g transform="translate(1289.1,394.1)"><circle r="19.3" fill="url(#sl)"/><ellipse rx="17.8" ry="19.3" fill="none" stroke="#000" stroke-opacity=".06" stroke-width=".7"/><ellipse rx="13.9" ry="19.3" fill="none" stroke="#fff" stroke-opacity=".06" stroke-width=".7"/><ellipse rx="9.7" ry="19.3" fill="none" stroke="#000" stroke-opacity=".06" stroke-width=".7"/><ellipse rx="5.0" ry="19.3" fill="none" stroke="#fff" stroke-opacity=".06" stroke-width=".7"/><circle r="19.3" fill="url(#sg)"/></g>
<g transform="translate(1102.9,447.9)"><circle r="19.8" fill="url(#sl)"/><ellipse rx="18.2" ry="19.8" fill="none" stroke="#000" stroke-opacity=".06" stroke-width=".7"/><ellipse rx="14.3" ry="19.8" fill="none" stroke="#fff" stroke-opacity=".06" stroke-width=".7"/><ellipse rx="9.9" ry="19.8" fill="none" stroke="#000" stroke-opacity=".06" stroke-width=".7"/><ellipse rx="5.1" ry="19.8" fill="none" stroke="#fff" stroke-opacity=".06" stroke-width=".7"/><circle r="19.8" fill="url(#sg)"/></g>
<g transform="translate(1135.7,508.8)"><circle r="20.8" fill="url(#sl)"/><ellipse rx="19.1" ry="20.8" fill="none" stroke="#000" stroke-opacity=".06" stroke-width=".7"/><ellipse rx="15.0" ry="20.8" fill="none" stroke="#fff" stroke-opacity=".06" stroke-width=".7"/><ellipse rx="10.4" ry="20.8" fill="none" stroke="#000" stroke-opacity=".06" stroke-width=".7"/><ellipse rx="5.4" ry="20.8" fill="none" stroke="#fff" stroke-opacity=".06" stroke-width=".7"/><circle r="20.8" fill="url(#sg)"/></g>
<g fill="#d9991c">
<polygon points="1184.0,459.0 1196.5,460.6 1189.0,470.6"/>
<polygon points="1357.0,404.3 1346.0,410.6 1346.0,398.1"/>
<polygon points="1301.5,412.0 1314.1,410.8 1309.0,422.2"/>
<polygon points="1230.5,482.3 1242.5,478.3 1240.1,490.6"/>
<polygon points="1262.0,476.5 1267.1,488.1 1254.7,486.8"/>
<polygon points="1274.9,445.1 1263.1,449.6 1264.9,437.3"/>
<polygon points="1270.6,463.0 1258.4,466.4 1261.4,454.3"/>
<polygon points="1279.2,471.6 1267.2,475.6 1269.6,463.3"/>
<polygon points="1320.8,510.5 1308.4,507.9 1316.7,498.5"/>
<polygon points="1330.0,508.8 1341.8,504.3 1340.0,516.6"/>
<polygon points="1199.7,392.3 1210.0,385.0 1211.3,397.4"/>
<polygon points="1190.3,458.8 1179.3,465.1 1179.3,452.6"/>
</g>
<g transform="translate(767.5,0)" fill="#444" stroke="#444" stroke-width=".9" stroke-linejoin="round" filter="url(#ps)"><polygon points="59.06,307.77 83.71,317.68 102.53,326.58 101.7,328.57 82.18,321.37 57.75,310.88"/><polygon points="102.94,301.46 104.36,303.08 86.63,321.93 65.25,337.97 63.83,336.36 82.33,317.12"/><polygon points="65.4,302.88 67.52,305.5 54.86,315.7 52.75,313.08"/></g>
<g stroke="#4682b4" stroke-opacity=".23" stroke-width="1.8" fill="#4682b4" fill-opacity=".32" stroke-linecap="butt">
<path fill="none" d="M840.7,490.9L864.6,487.5M838.2,422.2L862.4,418.9M835.7,352.1L860.1,348.8M833.1,280.4L857.8,277.2M830.4,207.1L855.5,204.0M883.9,454.2L907.3,450.9M881.9,386.2L905.6,383.0M879.9,316.8L903.8,313.6M877.8,245.9L902.0,242.8M875.7,173.4L900.2,170.4M925.8,418.6L948.7,415.4M924.2,351.3L947.4,348.2M922.7,282.6L946.1,279.6M921.1,212.4L944.8,209.5M919.5,140.8L943.5,137.9M966.4,384.1L988.8,381.0M965.3,317.5L988.0,314.5M964.2,249.5L987.1,246.5M963.0,180.1L986.3,177.2M961.9,109.2L985.4,106.4M1005.8,350.6L1027.7,347.6M1005.1,284.6L1027.3,281.7M1004.4,217.4L1026.9,214.5M1003.7,148.7L1026.4,145.9M1003.0,78.6L1026.0,75.9M908.8,512.6L932.8,509.1M907.0,443.5L931.3,440.1M905.2,372.9L929.8,369.6M903.3,300.8L928.3,297.5M901.4,227.0L926.7,223.8M951.3,475.2L974.8,471.9M950.0,406.8L973.8,403.5M948.7,337.0L972.8,333.8M947.4,265.6L971.7,262.5M946.0,192.7L970.7,189.6M992.5,438.9L1015.5,435.7M991.7,371.3L1015.0,368.1M990.8,302.2L1014.4,299.1M989.9,231.6L1013.8,228.5M989.0,159.5L1013.2,156.5M1032.5,403.8L1055.0,400.7M1032.1,336.8L1054.9,333.8M1031.6,268.4L1054.7,265.4M1031.2,198.6L1054.5,195.7M1030.7,127.3L1054.4,124.4M1071.2,369.8L1093.3,366.7M1071.2,303.4L1093.5,300.5M1071.2,235.8L1093.8,232.9M1071.2,166.7L1094.0,163.8M1071.1,96.1L1094.3,93.4M978.2,534.7L1002.3,531.2M977.1,465.2L1001.6,461.8M976.1,394.2L1000.9,390.8M975.0,321.6L1000.1,318.3M973.9,247.3L999.3,244.1M1020.0,496.6L1043.6,493.2M1019.4,427.8L1043.4,424.5M1018.8,357.6L1043.1,354.3M1018.2,285.7L1042.8,282.5M1017.6,212.3L1042.5,209.2M1060.5,459.7L1083.6,456.4M1060.4,391.6L1083.8,388.4M1060.2,322.1L1083.9,318.9M1060.1,251.1L1084.1,248.0M1059.9,178.5L1084.3,175.4M1099.7,423.9L1122.4,420.8M1100.0,356.6L1122.9,353.4M1100.3,287.7L1123.5,284.7M1100.6,217.5L1124.1,214.5M1100.9,145.7L1124.7,142.8M1137.8,389.3L1160.0,386.2M1138.5,322.6L1160.9,319.6M1139.1,254.5L1161.9,251.5M1139.8,185.0L1162.8,182.1M1140.5,114.0L1163.8,111.2M1048.9,557.2L1073.2,553.6M1048.6,487.3L1073.2,483.8M1048.3,415.9L1073.3,412.4M1048.1,342.8L1073.3,339.4M1047.8,268.1L1073.3,264.7M1089.9,518.4L1113.7,515.0M1090.1,449.2L1114.2,445.8M1090.3,378.5L1114.7,375.2M1090.5,306.3L1115.2,303.0M1090.7,232.4L1115.7,229.2M1129.7,480.8L1153.0,477.5M1130.3,412.3L1153.9,409.1M1130.9,342.4L1154.8,339.2M1131.6,270.9L1155.7,267.8M1132.2,197.8L1156.6,194.8M1168.2,444.4L1191.0,441.2M1169.2,376.6L1192.3,373.5M1170.2,307.4L1193.6,304.3M1171.3,236.7L1194.9,233.7M1172.3,164.5L1196.3,161.5M1205.6,409.1L1227.9,406.0M1206.9,342.0L1229.5,339.0M1208.3,273.5L1231.2,270.5M1209.8,203.6L1232.9,200.6M1211.2,132.1L1234.6,129.3M1120.9,580.2L1145.4,576.5M1121.4,509.9L1146.2,506.3M1122.0,438.0L1147.1,434.4M1122.5,364.4L1147.9,361.0M1123.1,289.2L1148.9,285.8M1161.2,540.6L1185.1,537.1M1162.2,471.0L1186.4,467.6M1163.1,399.9L1187.7,396.5M1164.1,327.2L1189.0,323.8M1165.2,252.8L1190.3,249.5M1200.2,502.3L1223.6,498.9M1201.5,433.5L1225.2,430.1M1202.9,363.1L1226.9,359.8M1204.4,291.1L1228.7,287.9M1205.8,217.6L1230.4,214.5M1237.9,465.3L1260.9,462.0M1239.7,397.1L1262.9,393.8M1241.5,327.4L1264.9,324.3M1243.3,256.3L1267.1,253.2M1245.2,183.6L1269.2,180.5M1274.5,429.3L1297.0,426.2M1276.6,361.8L1299.3,358.7M1278.8,292.9L1301.8,289.9M1281.0,222.5L1304.2,219.5M1283.2,150.6L1306.8,147.7"/>
<path stroke="none" d="M860.5,490.8L868.5,486.9L859.7,485.5ZM858.3,422.2L866.3,418.3L857.5,416.8ZM856.0,352.1L864.1,348.3L855.3,346.7ZM853.7,280.4L861.8,276.7L853.0,275.1ZM851.4,207.2L859.5,203.5L850.7,201.8ZM903.2,454.2L911.2,450.3L902.4,448.8ZM901.5,386.3L909.5,382.4L900.7,380.9ZM899.7,316.9L907.8,313.1L899.0,311.5ZM897.9,246.0L906.0,242.3L897.2,240.7ZM896.1,173.6L904.2,169.9L895.4,168.2ZM944.6,418.7L952.6,414.9L943.8,413.4ZM943.3,351.5L951.4,347.7L942.6,346.1ZM942.0,282.8L950.1,279.0L941.3,277.5ZM940.7,212.7L948.8,209.0L940.0,207.3ZM939.3,141.1L947.5,137.4L938.7,135.7ZM984.7,384.3L992.7,380.5L984.0,378.9ZM983.9,317.7L991.9,313.9L983.1,312.4ZM983.0,249.8L991.1,246.0L982.3,244.4ZM982.1,180.4L990.2,176.7L981.5,175.1ZM981.2,109.6L989.4,105.9L980.6,104.3ZM1023.6,350.9L1031.7,347.1L1022.9,345.5ZM1023.2,285.0L1031.3,281.2L1022.5,279.7ZM1022.7,217.8L1030.8,214.0L1022.1,212.4ZM1022.3,149.2L1030.4,145.5L1021.6,143.8ZM1021.8,79.1L1030.0,75.5L1021.2,73.8ZM928.7,512.5L936.8,508.6L928.0,507.1ZM927.3,443.4L935.3,439.6L926.5,438.1ZM925.7,372.9L933.8,369.1L925.0,367.5ZM924.2,300.8L932.3,297.0L923.5,295.4ZM922.6,227.1L930.7,223.3L921.9,221.7ZM970.8,475.2L978.8,471.3L970.0,469.8ZM969.7,406.8L977.8,403.0L969.0,401.5ZM968.7,337.0L976.8,333.2L968.0,331.7ZM967.6,265.7L975.7,262.0L966.9,260.4ZM966.5,192.8L974.6,189.1L965.9,187.5ZM1011.5,439.0L1019.5,435.2L1010.7,433.7ZM1010.9,371.4L1018.9,367.6L1010.2,366.0ZM1010.3,302.3L1018.4,298.5L1009.6,297.0ZM1009.7,231.8L1017.8,228.0L1009.0,226.4ZM1009.1,159.7L1017.2,156.0L1008.4,154.4ZM1050.9,404.0L1059.0,400.2L1050.2,398.7ZM1050.8,337.0L1058.8,333.2L1050.0,331.7ZM1050.6,268.7L1058.7,264.9L1049.9,263.3ZM1050.4,198.9L1058.5,195.2L1049.7,193.6ZM1050.2,127.7L1058.4,124.0L1049.6,122.3ZM1089.2,370.0L1097.2,366.2L1088.5,364.7ZM1089.4,303.8L1097.5,300.0L1088.7,298.4ZM1089.6,236.1L1097.7,232.4L1089.0,230.8ZM1089.9,167.1L1098.0,163.4L1089.2,161.7ZM1090.1,96.6L1098.2,92.9L1089.5,91.2ZM998.3,534.5L1006.3,530.6L997.5,529.2ZM997.5,465.1L1005.6,461.2L996.8,459.7ZM996.8,394.1L1004.8,390.3L996.0,388.7ZM996.0,321.5L1004.1,317.7L995.3,316.2ZM995.2,247.3L1003.3,243.6L994.5,242.0ZM1039.6,496.5L1047.6,492.6L1038.8,491.2ZM1039.3,427.8L1047.3,423.9L1038.5,422.4ZM1039.0,357.6L1047.0,353.7L1038.3,352.2ZM1038.7,285.8L1046.8,282.0L1038.0,280.4ZM1038.4,212.4L1046.5,208.7L1037.7,207.1ZM1079.6,459.7L1087.6,455.9L1078.8,454.4ZM1079.7,391.7L1087.7,387.9L1079.0,386.3ZM1079.8,322.2L1087.9,318.4L1079.1,316.8ZM1080.0,251.2L1088.1,247.5L1079.3,245.9ZM1080.1,178.7L1088.2,175.0L1079.5,173.3ZM1118.3,424.1L1126.4,420.2L1117.6,418.7ZM1118.9,356.7L1126.9,352.9L1118.1,351.4ZM1119.4,288.0L1127.5,284.2L1118.7,282.6ZM1120.0,217.7L1128.1,214.0L1119.3,212.4ZM1120.5,146.0L1128.6,142.3L1119.9,140.7ZM1155.9,389.5L1163.9,385.7L1155.2,384.1ZM1156.8,322.8L1164.9,319.0L1156.1,317.5ZM1157.7,254.8L1165.8,251.0L1157.0,249.4ZM1158.7,185.3L1166.8,181.6L1158.0,180.0ZM1159.7,114.4L1167.8,110.7L1159.0,109.0ZM1069.1,557.0L1077.1,553.1L1068.3,551.6ZM1069.1,487.1L1077.2,483.2L1068.4,481.8ZM1069.2,415.7L1077.2,411.9L1068.4,410.3ZM1069.2,342.7L1077.3,338.9L1068.5,337.3ZM1069.2,268.0L1077.3,264.2L1068.5,262.6ZM1109.6,518.3L1117.7,514.4L1108.9,512.9ZM1110.1,449.1L1118.2,445.3L1109.4,443.8ZM1110.6,378.5L1118.6,374.6L1109.9,373.1ZM1111.1,306.2L1119.2,302.5L1110.4,300.9ZM1111.6,232.4L1119.7,228.7L1110.9,227.1ZM1148.9,480.8L1156.9,476.9L1148.1,475.5ZM1149.8,412.4L1157.8,408.5L1149.0,407.0ZM1150.7,342.4L1158.7,338.6L1149.9,337.1ZM1151.6,271.0L1159.7,267.2L1150.9,265.7ZM1152.5,198.0L1160.6,194.3L1151.8,192.6ZM1186.9,444.5L1195.0,440.6L1186.2,439.1ZM1188.2,376.7L1196.2,372.9L1187.5,371.4ZM1189.5,307.6L1197.5,303.8L1188.8,302.2ZM1190.8,236.9L1198.9,233.1L1190.1,231.6ZM1192.1,164.7L1200.2,161.0L1191.5,159.4ZM1223.8,409.3L1231.8,405.4L1223.0,404.0ZM1225.4,342.2L1233.5,338.4L1224.7,336.9ZM1227.1,273.8L1235.1,270.0L1226.4,268.4ZM1228.8,203.9L1236.8,200.1L1228.1,198.5ZM1230.5,132.5L1238.6,128.8L1229.8,127.1ZM1141.3,579.9L1149.3,575.9L1140.5,574.5ZM1142.1,509.6L1150.2,505.7L1141.4,504.2ZM1143.0,437.7L1151.0,433.9L1142.2,432.4ZM1143.9,364.2L1151.9,360.4L1143.1,358.9ZM1144.7,289.1L1152.8,285.3L1144.0,283.7ZM1181.0,540.4L1189.1,536.5L1180.3,535.1ZM1182.3,470.9L1190.3,467.0L1181.5,465.5ZM1183.6,399.8L1191.6,395.9L1182.8,394.4ZM1184.9,327.1L1192.9,323.3L1184.2,321.7ZM1186.2,252.8L1194.3,249.0L1185.5,247.4ZM1219.5,502.3L1227.5,498.4L1218.7,496.9ZM1221.2,433.4L1229.2,429.6L1220.4,428.1ZM1222.8,363.1L1230.9,359.2L1222.1,357.7ZM1224.6,291.2L1232.6,287.4L1223.8,285.8ZM1226.3,217.7L1234.4,213.9L1225.6,212.3ZM1256.8,465.3L1264.8,461.4L1256.0,459.9ZM1258.8,397.1L1266.8,393.3L1258.0,391.8ZM1260.8,327.5L1268.9,323.7L1260.1,322.2ZM1262.9,256.4L1271.0,252.7L1262.2,251.1ZM1265.1,183.8L1273.2,180.0L1264.4,178.4ZM1292.9,429.5L1300.9,425.6L1292.1,424.1ZM1295.2,362.0L1303.3,358.2L1294.5,356.7ZM1297.7,293.1L1305.7,289.3L1296.9,287.8ZM1300.1,222.8L1308.2,219.0L1299.4,217.4ZM1302.6,150.9L1310.7,147.2L1302.0,145.6Z"/>
</g>
<g class="lb">
<text transform="translate(180.0,652.5) rotate(18)" text-anchor="middle">x [m]</text>
<text transform="translate(524.0,599.5) rotate(-47)" text-anchor="middle">y [m]</text>
<text transform="translate(947.0,652.5) rotate(18)" text-anchor="middle">x [m]</text>
<text transform="translate(1291.0,599.5) rotate(-47)" text-anchor="middle">y [m]</text>
<text transform="translate(643.0,276.0) rotate(-90)" text-anchor="middle">z [m]</text>
</g>
<text class="cap" x="67" y="771.5"><tspan class="b">a</tspan><tspan x="115.4">Calm wind experiment.</tspan></text>
<text class="cap" x="835.6" y="770.6"><tspan class="b">b</tspan><tspan x="883.6">Adverse wind experiment.</tspan></text>
</svg></body></html>
